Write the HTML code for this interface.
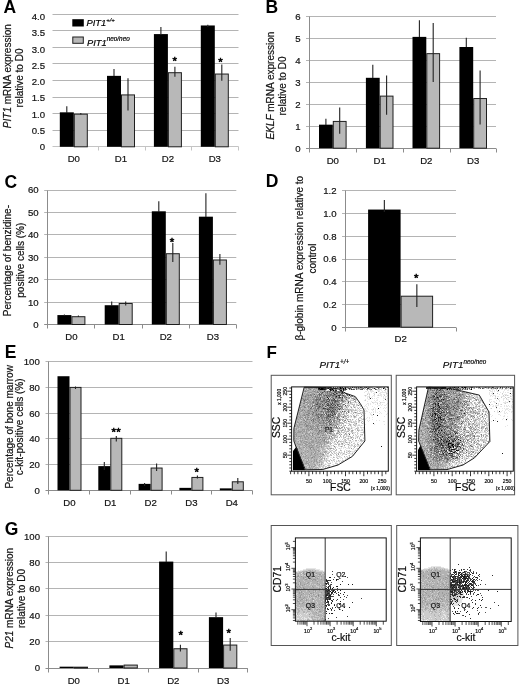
<!DOCTYPE html>
<html><head><meta charset="utf-8"><style>
html,body{margin:0;padding:0;background:#fff;width:520px;height:687px;overflow:hidden}
svg{display:block;font-family:"Liberation Sans", sans-serif;will-change:transform}
text{stroke:currentColor;stroke-width:0.2px}
text[font-weight=bold]{stroke:none}
</style></head><body>
<svg width="520" height="687" viewBox="0 0 520 687">
<rect width="520" height="687" fill="#fff"/>
<text x="3.60" y="13.20" font-size="17.5" text-anchor="start" font-weight="bold" fill="#000">A</text>
<text x="45.00" y="150.05" font-size="9.6" text-anchor="end" fill="#1a1a1a">0</text>
<line x1="52.50" y1="130.50" x2="238.50" y2="130.50" stroke="#b4b4b4" stroke-width="1"/>
<text x="45.00" y="133.81" font-size="9.6" text-anchor="end" fill="#1a1a1a">0.5</text>
<line x1="52.50" y1="113.50" x2="238.50" y2="113.50" stroke="#b4b4b4" stroke-width="1"/>
<text x="45.00" y="117.57" font-size="9.6" text-anchor="end" fill="#1a1a1a">1.0</text>
<line x1="52.50" y1="97.50" x2="238.50" y2="97.50" stroke="#b4b4b4" stroke-width="1"/>
<text x="45.00" y="101.33" font-size="9.6" text-anchor="end" fill="#1a1a1a">1.5</text>
<line x1="52.50" y1="80.50" x2="238.50" y2="80.50" stroke="#b4b4b4" stroke-width="1"/>
<text x="45.00" y="85.09" font-size="9.6" text-anchor="end" fill="#1a1a1a">2.0</text>
<line x1="52.50" y1="63.50" x2="238.50" y2="63.50" stroke="#b4b4b4" stroke-width="1"/>
<text x="45.00" y="68.85" font-size="9.6" text-anchor="end" fill="#1a1a1a">2.5</text>
<line x1="52.50" y1="47.50" x2="238.50" y2="47.50" stroke="#b4b4b4" stroke-width="1"/>
<text x="45.00" y="52.61" font-size="9.6" text-anchor="end" fill="#1a1a1a">3.0</text>
<line x1="52.50" y1="30.50" x2="238.50" y2="30.50" stroke="#b4b4b4" stroke-width="1"/>
<text x="45.00" y="36.37" font-size="9.6" text-anchor="end" fill="#1a1a1a">3.5</text>
<line x1="52.50" y1="14.50" x2="238.50" y2="14.50" stroke="#b4b4b4" stroke-width="1"/>
<text x="45.00" y="20.13" font-size="9.6" text-anchor="end" fill="#1a1a1a">4.0</text>
<line x1="52.50" y1="146.50" x2="238.50" y2="146.50" stroke="#c4c4c4" stroke-width="1"/>
<line x1="98.50" y1="146.50" x2="98.50" y2="150.50" stroke="#c4c4c4" stroke-width="1"/>
<line x1="145.50" y1="146.50" x2="145.50" y2="150.50" stroke="#c4c4c4" stroke-width="1"/>
<line x1="191.50" y1="146.50" x2="191.50" y2="150.50" stroke="#c4c4c4" stroke-width="1"/>
<line x1="238.50" y1="146.50" x2="238.50" y2="150.50" stroke="#c4c4c4" stroke-width="1"/>
<rect x="59.80" y="112.32" width="14.00" height="34.48" fill="#000"/>
<rect x="74.30" y="114.15" width="13.00" height="32.65" fill="#b8b8b8" stroke="#1e1e1e" stroke-width="1"/>
<line x1="66.80" y1="106.30" x2="66.80" y2="113.00" stroke="#222" stroke-width="1.1"/>
<line x1="80.80" y1="112.90" x2="80.80" y2="114.40" stroke="#222" stroke-width="1.1"/>
<text x="73.80" y="161.70" font-size="9.6" text-anchor="middle" fill="#1a1a1a">D0</text>
<rect x="107.00" y="75.86" width="14.00" height="70.94" fill="#000"/>
<rect x="121.50" y="94.92" width="13.00" height="51.88" fill="#b8b8b8" stroke="#1e1e1e" stroke-width="1"/>
<line x1="114.00" y1="69.00" x2="114.00" y2="76.00" stroke="#222" stroke-width="1.1"/>
<line x1="128.00" y1="78.20" x2="128.00" y2="110.50" stroke="#222" stroke-width="1.1"/>
<text x="121.00" y="161.70" font-size="9.6" text-anchor="middle" fill="#1a1a1a">D1</text>
<rect x="153.90" y="34.09" width="14.00" height="112.71" fill="#000"/>
<rect x="168.40" y="72.71" width="13.00" height="74.09" fill="#b8b8b8" stroke="#1e1e1e" stroke-width="1"/>
<line x1="160.90" y1="26.90" x2="160.90" y2="35.00" stroke="#222" stroke-width="1.1"/>
<line x1="174.90" y1="66.80" x2="174.90" y2="76.70" stroke="#222" stroke-width="1.1"/>
<text x="167.90" y="161.70" font-size="9.6" text-anchor="middle" fill="#1a1a1a">D2</text>
<rect x="200.80" y="25.47" width="14.00" height="121.33" fill="#000"/>
<rect x="215.30" y="74.04" width="13.00" height="72.76" fill="#b8b8b8" stroke="#1e1e1e" stroke-width="1"/>
<line x1="207.80" y1="24.80" x2="207.80" y2="27.00" stroke="#222" stroke-width="1.1"/>
<line x1="221.80" y1="64.60" x2="221.80" y2="80.80" stroke="#222" stroke-width="1.1"/>
<text x="214.80" y="161.70" font-size="9.6" text-anchor="middle" fill="#1a1a1a">D3</text>
<text x="174.75" y="64.50" font-size="11.5" text-anchor="middle" fill="#111" style="stroke-width:0.55px">*</text>
<text x="220.60" y="65.85" font-size="11.5" text-anchor="middle" fill="#111" style="stroke-width:0.55px">*</text>
<rect x="72.30" y="19.20" width="11.50" height="7.30" fill="#000"/>
<rect x="72.80" y="37.00" width="10.50" height="6.30" fill="#b8b8b8" stroke="#1e1e1e" stroke-width="1"/>
<text x="86.5" y="26" font-size="9.3" font-style="italic" fill="#000">PIT1<tspan font-size="6" dy="-4.3">+/+</tspan></text>
<text x="87" y="45.6" font-size="9.3" font-style="italic" fill="#000">PIT1<tspan font-size="6.4" dy="-4.3">neo/neo</tspan></text>
<text x="11.5" y="76.2" font-size="10" text-anchor="middle" fill="#1a1a1a" transform="rotate(-90 11.5 76.2)"><tspan font-style="italic">PIT1</tspan> mRNA expression</text>
<text x="23" y="78.0" font-size="10" text-anchor="middle" fill="#1a1a1a" transform="rotate(-90 23 78.0)">relative to D0</text>
<text x="265.60" y="13.30" font-size="17.5" text-anchor="start" font-weight="bold" fill="#000">B</text>
<text x="300.50" y="151.65" font-size="9.6" text-anchor="end" fill="#1a1a1a">0</text>
<line x1="306.00" y1="126.50" x2="496.00" y2="126.50" stroke="#b4b4b4" stroke-width="1"/>
<text x="300.50" y="129.65" font-size="9.6" text-anchor="end" fill="#1a1a1a">1</text>
<line x1="306.00" y1="104.50" x2="496.00" y2="104.50" stroke="#b4b4b4" stroke-width="1"/>
<text x="300.50" y="107.65" font-size="9.6" text-anchor="end" fill="#1a1a1a">2</text>
<line x1="306.00" y1="82.50" x2="496.00" y2="82.50" stroke="#b4b4b4" stroke-width="1"/>
<text x="300.50" y="85.65" font-size="9.6" text-anchor="end" fill="#1a1a1a">3</text>
<line x1="306.00" y1="60.50" x2="496.00" y2="60.50" stroke="#b4b4b4" stroke-width="1"/>
<text x="300.50" y="63.65" font-size="9.6" text-anchor="end" fill="#1a1a1a">4</text>
<line x1="306.00" y1="38.50" x2="496.00" y2="38.50" stroke="#b4b4b4" stroke-width="1"/>
<text x="300.50" y="41.65" font-size="9.6" text-anchor="end" fill="#1a1a1a">5</text>
<line x1="306.00" y1="16.50" x2="496.00" y2="16.50" stroke="#b4b4b4" stroke-width="1"/>
<text x="300.50" y="19.65" font-size="9.6" text-anchor="end" fill="#1a1a1a">6</text>
<line x1="309.50" y1="16.50" x2="309.50" y2="148.50" stroke="#8c8c8c" stroke-width="1"/>
<line x1="306.00" y1="148.50" x2="496.00" y2="148.50" stroke="#8c8c8c" stroke-width="1"/>
<line x1="309.50" y1="148.50" x2="309.50" y2="152.50" stroke="#8c8c8c" stroke-width="1"/>
<line x1="356.50" y1="148.50" x2="356.50" y2="152.50" stroke="#8c8c8c" stroke-width="1"/>
<line x1="403.50" y1="148.50" x2="403.50" y2="152.50" stroke="#8c8c8c" stroke-width="1"/>
<line x1="450.50" y1="148.50" x2="450.50" y2="152.50" stroke="#8c8c8c" stroke-width="1"/>
<line x1="496.50" y1="148.50" x2="496.50" y2="152.50" stroke="#8c8c8c" stroke-width="1"/>
<rect x="319.00" y="124.66" width="13.80" height="23.54" fill="#000"/>
<rect x="333.30" y="121.42" width="12.80" height="26.78" fill="#b8b8b8" stroke="#1e1e1e" stroke-width="1"/>
<line x1="325.90" y1="118.70" x2="325.90" y2="125.00" stroke="#222" stroke-width="1.1"/>
<line x1="339.70" y1="107.50" x2="339.70" y2="133.70" stroke="#222" stroke-width="1.1"/>
<text x="332.80" y="163.50" font-size="9.6" text-anchor="middle" fill="#1a1a1a">D0</text>
<rect x="365.90" y="77.80" width="13.80" height="70.40" fill="#000"/>
<rect x="380.20" y="96.12" width="12.80" height="52.08" fill="#b8b8b8" stroke="#1e1e1e" stroke-width="1"/>
<line x1="372.80" y1="64.70" x2="372.80" y2="78.00" stroke="#222" stroke-width="1.1"/>
<line x1="386.60" y1="75.50" x2="386.60" y2="114.70" stroke="#222" stroke-width="1.1"/>
<text x="379.70" y="163.50" font-size="9.6" text-anchor="middle" fill="#1a1a1a">D1</text>
<rect x="412.50" y="36.88" width="13.80" height="111.32" fill="#000"/>
<rect x="426.80" y="53.66" width="12.80" height="94.54" fill="#b8b8b8" stroke="#1e1e1e" stroke-width="1"/>
<line x1="419.40" y1="20.20" x2="419.40" y2="37.00" stroke="#222" stroke-width="1.1"/>
<line x1="433.20" y1="22.90" x2="433.20" y2="82.00" stroke="#222" stroke-width="1.1"/>
<text x="426.30" y="163.50" font-size="9.6" text-anchor="middle" fill="#1a1a1a">D2</text>
<rect x="459.40" y="47.00" width="13.80" height="101.20" fill="#000"/>
<rect x="473.70" y="98.54" width="12.80" height="49.66" fill="#b8b8b8" stroke="#1e1e1e" stroke-width="1"/>
<line x1="466.30" y1="37.70" x2="466.30" y2="47.00" stroke="#222" stroke-width="1.1"/>
<line x1="480.10" y1="70.50" x2="480.10" y2="124.40" stroke="#222" stroke-width="1.1"/>
<text x="473.20" y="163.50" font-size="9.6" text-anchor="middle" fill="#1a1a1a">D3</text>
<text x="274" y="85.6" font-size="10" text-anchor="middle" fill="#1a1a1a" transform="rotate(-90 274 85.6)"><tspan font-style="italic">EKLF</tspan> mRNA expression</text>
<text x="285.8" y="86.0" font-size="10" text-anchor="middle" fill="#1a1a1a" transform="rotate(-90 285.8 86.0)">relative to D0</text>
<text x="4.50" y="187.50" font-size="17.5" text-anchor="start" font-weight="bold" fill="#000">C</text>
<text x="38.60" y="327.95" font-size="9.6" text-anchor="end" fill="#1a1a1a">0</text>
<line x1="44.20" y1="302.50" x2="236.30" y2="302.50" stroke="#b4b4b4" stroke-width="1"/>
<text x="38.60" y="305.53" font-size="9.6" text-anchor="end" fill="#1a1a1a">10</text>
<line x1="44.20" y1="279.50" x2="236.30" y2="279.50" stroke="#b4b4b4" stroke-width="1"/>
<text x="38.60" y="283.12" font-size="9.6" text-anchor="end" fill="#1a1a1a">20</text>
<line x1="44.20" y1="257.50" x2="236.30" y2="257.50" stroke="#b4b4b4" stroke-width="1"/>
<text x="38.60" y="260.70" font-size="9.6" text-anchor="end" fill="#1a1a1a">30</text>
<line x1="44.20" y1="234.50" x2="236.30" y2="234.50" stroke="#b4b4b4" stroke-width="1"/>
<text x="38.60" y="238.28" font-size="9.6" text-anchor="end" fill="#1a1a1a">40</text>
<line x1="44.20" y1="212.50" x2="236.30" y2="212.50" stroke="#b4b4b4" stroke-width="1"/>
<text x="38.60" y="215.87" font-size="9.6" text-anchor="end" fill="#1a1a1a">50</text>
<line x1="44.20" y1="190.50" x2="236.30" y2="190.50" stroke="#b4b4b4" stroke-width="1"/>
<text x="38.60" y="193.45" font-size="9.6" text-anchor="end" fill="#1a1a1a">60</text>
<line x1="47.50" y1="190.50" x2="47.50" y2="324.50" stroke="#8c8c8c" stroke-width="1"/>
<line x1="44.20" y1="324.50" x2="236.30" y2="324.50" stroke="#8c8c8c" stroke-width="1"/>
<line x1="47.50" y1="324.50" x2="47.50" y2="328.50" stroke="#8c8c8c" stroke-width="1"/>
<line x1="94.50" y1="324.50" x2="94.50" y2="328.50" stroke="#8c8c8c" stroke-width="1"/>
<line x1="142.50" y1="324.50" x2="142.50" y2="328.50" stroke="#8c8c8c" stroke-width="1"/>
<line x1="189.50" y1="324.50" x2="189.50" y2="328.50" stroke="#8c8c8c" stroke-width="1"/>
<line x1="236.50" y1="324.50" x2="236.50" y2="328.50" stroke="#8c8c8c" stroke-width="1"/>
<rect x="57.40" y="315.08" width="14.00" height="9.42" fill="#000"/>
<rect x="71.90" y="316.71" width="13.00" height="7.79" fill="#b8b8b8" stroke="#1e1e1e" stroke-width="1"/>
<line x1="64.40" y1="314.50" x2="64.40" y2="316.00" stroke="#222" stroke-width="1.1"/>
<line x1="78.40" y1="315.50" x2="78.40" y2="317.00" stroke="#222" stroke-width="1.1"/>
<text x="71.40" y="340.30" font-size="9.6" text-anchor="middle" fill="#1a1a1a">D0</text>
<rect x="104.70" y="305.22" width="14.00" height="19.28" fill="#000"/>
<rect x="119.20" y="303.48" width="13.00" height="21.02" fill="#b8b8b8" stroke="#1e1e1e" stroke-width="1"/>
<line x1="111.70" y1="301.50" x2="111.70" y2="306.00" stroke="#222" stroke-width="1.1"/>
<line x1="125.70" y1="301.50" x2="125.70" y2="305.50" stroke="#222" stroke-width="1.1"/>
<text x="118.70" y="340.30" font-size="9.6" text-anchor="middle" fill="#1a1a1a">D1</text>
<rect x="151.80" y="211.30" width="14.00" height="113.20" fill="#000"/>
<rect x="166.30" y="253.72" width="13.00" height="70.78" fill="#b8b8b8" stroke="#1e1e1e" stroke-width="1"/>
<line x1="158.80" y1="201.30" x2="158.80" y2="212.00" stroke="#222" stroke-width="1.1"/>
<line x1="172.80" y1="243.00" x2="172.80" y2="262.00" stroke="#222" stroke-width="1.1"/>
<text x="165.80" y="340.30" font-size="9.6" text-anchor="middle" fill="#1a1a1a">D2</text>
<rect x="198.90" y="216.68" width="14.00" height="107.82" fill="#000"/>
<rect x="213.40" y="259.99" width="13.00" height="64.51" fill="#b8b8b8" stroke="#1e1e1e" stroke-width="1"/>
<line x1="205.90" y1="193.30" x2="205.90" y2="217.00" stroke="#222" stroke-width="1.1"/>
<line x1="219.90" y1="254.00" x2="219.90" y2="264.80" stroke="#222" stroke-width="1.1"/>
<text x="212.90" y="340.30" font-size="9.6" text-anchor="middle" fill="#1a1a1a">D3</text>
<text x="172.10" y="246.00" font-size="11.5" text-anchor="middle" fill="#111" style="stroke-width:0.55px">*</text>
<text x="10.8" y="260.6" font-size="10" text-anchor="middle" fill="#1a1a1a" transform="rotate(-90 10.8 260.6)">Percentage of benzidine-</text>
<text x="24.2" y="260.2" font-size="10" text-anchor="middle" fill="#1a1a1a" transform="rotate(-90 24.2 260.2)">positive cells (%)</text>
<text x="265.80" y="187.00" font-size="17.5" text-anchor="start" font-weight="bold" fill="#000">D</text>
<text x="336.50" y="330.65" font-size="9.6" text-anchor="end" fill="#1a1a1a">0</text>
<line x1="342.00" y1="304.50" x2="456.00" y2="304.50" stroke="#b4b4b4" stroke-width="1"/>
<text x="336.50" y="307.92" font-size="9.6" text-anchor="end" fill="#1a1a1a">0.2</text>
<line x1="342.00" y1="281.50" x2="456.00" y2="281.50" stroke="#b4b4b4" stroke-width="1"/>
<text x="336.50" y="285.18" font-size="9.6" text-anchor="end" fill="#1a1a1a">0.4</text>
<line x1="342.00" y1="259.50" x2="456.00" y2="259.50" stroke="#b4b4b4" stroke-width="1"/>
<text x="336.50" y="262.45" font-size="9.6" text-anchor="end" fill="#1a1a1a">0.6</text>
<line x1="342.00" y1="236.50" x2="456.00" y2="236.50" stroke="#b4b4b4" stroke-width="1"/>
<text x="336.50" y="239.72" font-size="9.6" text-anchor="end" fill="#1a1a1a">0.8</text>
<line x1="342.00" y1="213.50" x2="456.00" y2="213.50" stroke="#b4b4b4" stroke-width="1"/>
<text x="336.50" y="216.98" font-size="9.6" text-anchor="end" fill="#1a1a1a">1.0</text>
<line x1="342.00" y1="190.50" x2="456.00" y2="190.50" stroke="#b4b4b4" stroke-width="1"/>
<text x="336.50" y="194.25" font-size="9.6" text-anchor="end" fill="#1a1a1a">1.2</text>
<line x1="345.50" y1="190.50" x2="345.50" y2="327.50" stroke="#8c8c8c" stroke-width="1"/>
<line x1="342.00" y1="327.50" x2="456.00" y2="327.50" stroke="#8c8c8c" stroke-width="1"/>
<line x1="345.50" y1="327.50" x2="345.50" y2="331.50" stroke="#8c8c8c" stroke-width="1"/>
<line x1="456.50" y1="327.50" x2="456.50" y2="331.50" stroke="#8c8c8c" stroke-width="1"/>
<rect x="368.10" y="209.56" width="32.50" height="117.64" fill="#000"/>
<rect x="401.10" y="296.21" width="31.50" height="30.99" fill="#b8b8b8" stroke="#1e1e1e" stroke-width="1"/>
<line x1="384.35" y1="200.00" x2="384.35" y2="212.00" stroke="#222" stroke-width="1.1"/>
<line x1="416.85" y1="284.20" x2="416.85" y2="307.00" stroke="#222" stroke-width="1.1"/>
<text x="400.60" y="342.30" font-size="9.6" text-anchor="middle" fill="#1a1a1a">D2</text>
<text x="416.30" y="281.70" font-size="11.5" text-anchor="middle" fill="#111" style="stroke-width:0.55px">*</text>
<text x="302.6" y="258.2" font-size="10" text-anchor="middle" fill="#1a1a1a" transform="rotate(-90 302.6 258.2)">&#946;-globin mRNA expression relative to</text>
<text x="316" y="258.6" font-size="10" text-anchor="middle" fill="#1a1a1a" transform="rotate(-90 316 258.6)">control</text>
<text x="4.80" y="358.20" font-size="17.5" text-anchor="start" font-weight="bold" fill="#000">E</text>
<text x="39.80" y="493.75" font-size="9.6" text-anchor="end" fill="#1a1a1a">0</text>
<line x1="45.50" y1="464.50" x2="252.50" y2="464.50" stroke="#b4b4b4" stroke-width="1"/>
<text x="39.80" y="468.03" font-size="9.6" text-anchor="end" fill="#1a1a1a">20</text>
<line x1="45.50" y1="438.50" x2="252.50" y2="438.50" stroke="#b4b4b4" stroke-width="1"/>
<text x="39.80" y="442.31" font-size="9.6" text-anchor="end" fill="#1a1a1a">40</text>
<line x1="45.50" y1="413.50" x2="252.50" y2="413.50" stroke="#b4b4b4" stroke-width="1"/>
<text x="39.80" y="416.59" font-size="9.6" text-anchor="end" fill="#1a1a1a">60</text>
<line x1="45.50" y1="387.50" x2="252.50" y2="387.50" stroke="#b4b4b4" stroke-width="1"/>
<text x="39.80" y="390.87" font-size="9.6" text-anchor="end" fill="#1a1a1a">80</text>
<line x1="45.50" y1="361.50" x2="252.50" y2="361.50" stroke="#b4b4b4" stroke-width="1"/>
<text x="39.80" y="365.15" font-size="9.6" text-anchor="end" fill="#1a1a1a">100</text>
<line x1="48.50" y1="361.50" x2="48.50" y2="490.50" stroke="#8c8c8c" stroke-width="1"/>
<line x1="45.50" y1="490.50" x2="252.50" y2="490.50" stroke="#8c8c8c" stroke-width="1"/>
<line x1="48.50" y1="490.50" x2="48.50" y2="494.50" stroke="#8c8c8c" stroke-width="1"/>
<line x1="89.50" y1="490.50" x2="89.50" y2="494.50" stroke="#8c8c8c" stroke-width="1"/>
<line x1="130.50" y1="490.50" x2="130.50" y2="494.50" stroke="#8c8c8c" stroke-width="1"/>
<line x1="171.50" y1="490.50" x2="171.50" y2="494.50" stroke="#8c8c8c" stroke-width="1"/>
<line x1="211.50" y1="490.50" x2="211.50" y2="494.50" stroke="#8c8c8c" stroke-width="1"/>
<line x1="252.50" y1="490.50" x2="252.50" y2="494.50" stroke="#8c8c8c" stroke-width="1"/>
<rect x="57.50" y="376.23" width="12.00" height="114.07" fill="#000"/>
<rect x="70.00" y="387.41" width="11.00" height="102.89" fill="#b8b8b8" stroke="#1e1e1e" stroke-width="1"/>
<line x1="75.50" y1="386.50" x2="75.50" y2="389.00" stroke="#222" stroke-width="1.1"/>
<text x="69.50" y="505.80" font-size="9.6" text-anchor="middle" fill="#1a1a1a">D0</text>
<rect x="98.30" y="466.12" width="12.00" height="24.18" fill="#000"/>
<rect x="110.80" y="438.33" width="11.00" height="51.97" fill="#b8b8b8" stroke="#1e1e1e" stroke-width="1"/>
<line x1="104.30" y1="462.00" x2="104.30" y2="470.00" stroke="#222" stroke-width="1.1"/>
<line x1="116.30" y1="436.00" x2="116.30" y2="441.50" stroke="#222" stroke-width="1.1"/>
<text x="110.30" y="505.80" font-size="9.6" text-anchor="middle" fill="#1a1a1a">D1</text>
<rect x="138.60" y="483.87" width="12.00" height="6.43" fill="#000"/>
<rect x="151.10" y="468.04" width="11.00" height="22.26" fill="#b8b8b8" stroke="#1e1e1e" stroke-width="1"/>
<line x1="144.60" y1="483.00" x2="144.60" y2="486.00" stroke="#222" stroke-width="1.1"/>
<line x1="156.60" y1="463.50" x2="156.60" y2="471.00" stroke="#222" stroke-width="1.1"/>
<text x="150.60" y="505.80" font-size="9.6" text-anchor="middle" fill="#1a1a1a">D2</text>
<rect x="179.40" y="487.86" width="12.00" height="2.44" fill="#000"/>
<rect x="191.90" y="477.43" width="11.00" height="12.87" fill="#b8b8b8" stroke="#1e1e1e" stroke-width="1"/>
<line x1="197.40" y1="475.50" x2="197.40" y2="478.50" stroke="#222" stroke-width="1.1"/>
<text x="191.40" y="505.80" font-size="9.6" text-anchor="middle" fill="#1a1a1a">D3</text>
<rect x="219.80" y="488.37" width="12.00" height="1.93" fill="#000"/>
<rect x="232.30" y="481.80" width="11.00" height="8.50" fill="#b8b8b8" stroke="#1e1e1e" stroke-width="1"/>
<line x1="237.80" y1="478.00" x2="237.80" y2="484.00" stroke="#222" stroke-width="1.1"/>
<text x="231.80" y="505.80" font-size="9.6" text-anchor="middle" fill="#1a1a1a">D4</text>
<text x="113.70" y="435.70" font-size="11.5" text-anchor="middle" fill="#111" style="stroke-width:0.55px">*</text>
<text x="118.50" y="435.70" font-size="11.5" text-anchor="middle" fill="#111" style="stroke-width:0.55px">*</text>
<text x="196.80" y="476.00" font-size="11.5" text-anchor="middle" fill="#111" style="stroke-width:0.55px">*</text>
<text x="13.2" y="426.85" font-size="10" text-anchor="middle" fill="#1a1a1a" transform="rotate(-90 13.2 426.85)">Percentage of bone marrow</text>
<text x="23.4" y="426.85" font-size="10" text-anchor="middle" fill="#1a1a1a" transform="rotate(-90 23.4 426.85)">c-kit-positive cells (%)</text>
<text x="4.80" y="534.50" font-size="17.5" text-anchor="start" font-weight="bold" fill="#000">G</text>
<text x="40.00" y="671.45" font-size="9.6" text-anchor="end" fill="#1a1a1a">0</text>
<line x1="45.50" y1="641.50" x2="247.90" y2="641.50" stroke="#b4b4b4" stroke-width="1"/>
<text x="40.00" y="645.11" font-size="9.6" text-anchor="end" fill="#1a1a1a">20</text>
<line x1="45.50" y1="615.50" x2="247.90" y2="615.50" stroke="#b4b4b4" stroke-width="1"/>
<text x="40.00" y="618.77" font-size="9.6" text-anchor="end" fill="#1a1a1a">40</text>
<line x1="45.50" y1="588.50" x2="247.90" y2="588.50" stroke="#b4b4b4" stroke-width="1"/>
<text x="40.00" y="592.43" font-size="9.6" text-anchor="end" fill="#1a1a1a">60</text>
<line x1="45.50" y1="562.50" x2="247.90" y2="562.50" stroke="#b4b4b4" stroke-width="1"/>
<text x="40.00" y="566.09" font-size="9.6" text-anchor="end" fill="#1a1a1a">80</text>
<line x1="45.50" y1="536.50" x2="247.90" y2="536.50" stroke="#b4b4b4" stroke-width="1"/>
<text x="40.00" y="539.75" font-size="9.6" text-anchor="end" fill="#1a1a1a">100</text>
<line x1="48.50" y1="536.50" x2="48.50" y2="668.50" stroke="#8c8c8c" stroke-width="1"/>
<line x1="45.50" y1="668.50" x2="247.90" y2="668.50" stroke="#8c8c8c" stroke-width="1"/>
<line x1="48.50" y1="668.50" x2="48.50" y2="672.50" stroke="#8c8c8c" stroke-width="1"/>
<line x1="98.50" y1="668.50" x2="98.50" y2="672.50" stroke="#8c8c8c" stroke-width="1"/>
<line x1="148.50" y1="668.50" x2="148.50" y2="672.50" stroke="#8c8c8c" stroke-width="1"/>
<line x1="198.50" y1="668.50" x2="198.50" y2="672.50" stroke="#8c8c8c" stroke-width="1"/>
<line x1="247.50" y1="668.50" x2="247.50" y2="672.50" stroke="#8c8c8c" stroke-width="1"/>
<rect x="59.60" y="666.68" width="14.20" height="1.32" fill="#000"/>
<rect x="74.30" y="667.18" width="13.20" height="0.82" fill="#b8b8b8" stroke="#1e1e1e" stroke-width="1"/>
<text x="73.80" y="683.60" font-size="9.6" text-anchor="middle" fill="#1a1a1a">D0</text>
<rect x="109.40" y="665.37" width="14.20" height="2.63" fill="#000"/>
<rect x="124.10" y="665.08" width="13.20" height="2.92" fill="#b8b8b8" stroke="#1e1e1e" stroke-width="1"/>
<text x="123.60" y="683.60" font-size="9.6" text-anchor="middle" fill="#1a1a1a">D1</text>
<rect x="159.10" y="561.59" width="14.20" height="106.41" fill="#000"/>
<rect x="173.80" y="648.75" width="13.20" height="19.25" fill="#b8b8b8" stroke="#1e1e1e" stroke-width="1"/>
<line x1="166.20" y1="551.60" x2="166.20" y2="562.00" stroke="#222" stroke-width="1.1"/>
<line x1="180.40" y1="644.80" x2="180.40" y2="651.50" stroke="#222" stroke-width="1.1"/>
<text x="173.30" y="683.60" font-size="9.6" text-anchor="middle" fill="#1a1a1a">D2</text>
<rect x="208.90" y="617.16" width="14.20" height="50.84" fill="#000"/>
<rect x="223.60" y="645.06" width="13.20" height="22.94" fill="#b8b8b8" stroke="#1e1e1e" stroke-width="1"/>
<line x1="216.00" y1="612.50" x2="216.00" y2="618.00" stroke="#222" stroke-width="1.1"/>
<line x1="230.20" y1="638.00" x2="230.20" y2="650.70" stroke="#222" stroke-width="1.1"/>
<text x="223.10" y="683.60" font-size="9.6" text-anchor="middle" fill="#1a1a1a">D3</text>
<text x="180.80" y="639.30" font-size="11.5" text-anchor="middle" fill="#111" style="stroke-width:0.55px">*</text>
<text x="228.80" y="637.10" font-size="11.5" text-anchor="middle" fill="#111" style="stroke-width:0.55px">*</text>
<text x="13.2" y="598.2" font-size="10" text-anchor="middle" fill="#1a1a1a" transform="rotate(-90 13.2 598.2)"><tspan font-style="italic">P21</tspan> mRNA expression</text>
<text x="24.8" y="598.5" font-size="10" text-anchor="middle" fill="#1a1a1a" transform="rotate(-90 24.8 598.5)">relative to D0</text>
<rect x="271.2" y="375.3" width="120.1" height="119.5" fill="none" stroke="#555" stroke-width="1"/>
<text x="334.3" y="368.3" font-size="9.8" font-style="italic" text-anchor="middle" fill="#111">PIT1<tspan font-size="6.3" dy="-4.3">+/+</tspan></text>
<path d="M289.3 471.2H291.6M289.3 468.0H291.6M289.3 464.8H291.6M289.3 461.6H291.6M289.3 458.4H291.6M287.3 455.2H291.6M289.3 452.0H291.6M289.3 448.8H291.6M289.3 445.6H291.6M289.3 442.4H291.6M287.3 439.2H291.6M289.3 436.0H291.6M289.3 432.8H291.6M289.3 429.6H291.6M289.3 426.4H291.6M287.3 423.2H291.6M289.3 420.0H291.6M289.3 416.8H291.6M289.3 413.6H291.6M289.3 410.4H291.6M287.3 407.2H291.6M289.3 404.0H291.6M289.3 400.8H291.6M289.3 397.6H291.6M289.3 394.4H291.6M287.3 391.2H291.6M289.3 388.0H291.6M290.6 471.2V474.2M294.3 471.2V474.2M297.9 471.2V474.2M301.6 471.2V474.2M305.2 471.2V474.2M308.9 471.2V476.2M312.6 471.2V474.2M316.2 471.2V474.2M319.9 471.2V474.2M323.5 471.2V474.2M327.2 471.2V476.2M330.9 471.2V474.2M334.5 471.2V474.2M338.2 471.2V474.2M341.8 471.2V474.2M345.5 471.2V476.2M349.2 471.2V474.2M352.8 471.2V474.2M356.5 471.2V474.2M360.1 471.2V474.2M363.8 471.2V476.2M367.5 471.2V474.2M371.1 471.2V474.2M374.8 471.2V474.2M378.4 471.2V474.2M382.1 471.2V476.2M385.8 471.2V474.2" stroke="#222" stroke-width="0.9" fill="none"/>
<text x="285.2" y="457.0" font-size="5.2" text-anchor="middle" fill="#222" transform="rotate(-90 285.2 455.2)">50</text>
<text x="308.9" y="482.6" font-size="5.2" text-anchor="middle" fill="#222">50</text>
<text x="285.2" y="441.0" font-size="5.2" text-anchor="middle" fill="#222" transform="rotate(-90 285.2 439.2)">100</text>
<text x="327.2" y="482.6" font-size="5.2" text-anchor="middle" fill="#222">100</text>
<text x="285.2" y="425.0" font-size="5.2" text-anchor="middle" fill="#222" transform="rotate(-90 285.2 423.2)">150</text>
<text x="345.5" y="482.6" font-size="5.2" text-anchor="middle" fill="#222">150</text>
<text x="285.2" y="409.0" font-size="5.2" text-anchor="middle" fill="#222" transform="rotate(-90 285.2 407.2)">200</text>
<text x="363.8" y="482.6" font-size="5.2" text-anchor="middle" fill="#222">200</text>
<text x="285.2" y="393.0" font-size="5.2" text-anchor="middle" fill="#222" transform="rotate(-90 285.2 391.2)">250</text>
<text x="382.1" y="482.6" font-size="5.2" text-anchor="middle" fill="#222">250</text>
<text x="279.0" y="398.6" font-size="4.8" text-anchor="middle" fill="#222" transform="rotate(-90 279.0 396.8)">x 1,000</text>
<text x="380.3" y="489.5" font-size="4.8" text-anchor="middle" fill="#222">(x 1,000)</text>
<text x="340.4" y="491.4" font-size="10.3" text-anchor="middle" fill="#111">FSC</text>
<text x="280.5" y="427.4" font-size="10.3" text-anchor="middle" fill="#111" transform="rotate(-90 280.5 427.4)">SSC</text>
<path d="M304.5 387.5h0m3 0h2m3 0h1m25 0h0m21 0h0m13 0h0m9 0h0m2 0h0m-79 1h0m3 0h0m6 0h0m44 0h0m3 0h0m5 0h0m4 0h0m3 0h1m2 0h0m10 0h0m-81 1h0m4 0h0m3 0h0m4 0h2m17 0h0m32 0h0m-63 1h1m2 0h0m3 0h3m4 0h1m17 0h0m-27 1h4m5 0h0m2 0h0m4 0h0m-19 1h0m2 0h0m2 0h0m5 0h2m10 0h0m4 0h0m5 0h0m10 0h0m-38 1h1m2 0h1m2 0h0m3 0h2m7 0h1m6 0h0m5 0h0m3 0h0m2 0h0m4 0h0m-41 1h2m4 0h0m6 0h0m2 0h0m5 0h0m2 0h0m2 0h0m6 0h0m6 0h0m3 0h0m3 0h0m-42 1h0m2 0h0m8 0h0m4 0h0m2 0h0m27 0h0m3 0h0m-41 1h0m2 0h1m2 0h0m6 0h0m7 0h0m6 0h0m17 0h0m-46 1h2m2 0h0m5 0h0m2 0h0m15 0h0m6 0h0m13 0h1m6 0h0m15 0h0m-68 1h0m3 0h0m2 0h0m3 0h3m14 0h0m20 0h0m5 0h0m4 0h0m-54 1h1m7 0h0m2 0h0m10 0h1m16 0h0m2 0h0m5 0h0m8 0h0m2 0h0m-53 1h0m8 0h0m18 0h0m2 0h0m10 0h0m3 0h0m4 0h0m6 0h0m2 0h0m-54 1h0m4 0h0m3 0h0m3 0h0m8 0h0m11 0h0m9 0h2m3 0h0m5 0h1m4 0h0m-54 1h0m2 0h1m8 0h0m8 0h0m8 0h0m4 0h0m2 0h0m10 0h0m12 0h0m-55 1h2m7 0h0m5 0h0m8 0h0m3 0h1m3 0h0m9 0h0m2 0h0m7 0h1m2 0h0m-50 1h5m6 0h0m3 0h0m7 0h0m4 0h0m7 0h0m10 0h0m10 0h0m2 0h0m5 0h0m-58 1h1m2 0h0m2 0h1m2 0h0m15 0h0m25 0h0m4 0h0m-52 1h0m4 0h0m6 0h0m2 0h1m9 0h1m11 0h0m2 0h0m8 0h1m2 0h0m5 0h0m-51 1h1m3 0h1m3 0h0m3 0h0m13 0h0m2 0h0m11 0h0m-40 1h0m3 0h4m3 0h0m3 0h0m4 0h0m25 0h0m17 0h0m-59 1h0m2 0h0m3 0h4m5 0h0m7 0h0m16 0h0m4 0h0m2 0h0m3 0h3m2 0h0m-52 1h0m2 0h0m3 0h0m2 0h1m5 0h2m4 0h0m2 0h1m9 0h0m22 0h0m4 0h0m5 0h0m-62 1h1m3 0h2m2 0h0m7 0h0m22 0h0m3 0h0m9 0h0m4 0h0m-53 1h0m2 0h0m2 0h0m2 0h0m6 0h1m7 0h1m3 0h0m18 0h0m4 0h0m10 0h0m2 0h0m6 0h0m-64 1h0m2 0h3m2 0h2m3 0h0m4 0h0m3 0h0m4 0h0m6 0h0m2 0h0m2 0h0m2 0h0m8 0h0m2 0h0m10 0h0m5 0h1m-61 1h0m2 0h2m3 0h0m4 0h0m2 0h0m3 0h0m23 0h0m3 0h0m2 0h0m19 0h0m-63 1h1m2 0h0m5 0h0m5 0h0m13 0h0m10 0h1m2 0h0m3 0h0m13 0h0m3 0h0m-59 1h0m2 0h0m2 0h2m3 0h0m2 0h3m4 0h0m9 0h1m7 0h0m2 0h0m2 0h1m7 0h0m2 0h0m5 0h0m4 0h0m-57 1h0m8 0h0m3 0h0m6 0h0m5 0h0m18 0h0m4 0h0m6 0h0m6 0h0m6 0h0m-62 1h1m3 0h0m4 0h0m2 0h0m11 0h1m3 0h0m2 0h0m4 0h1m2 0h1m2 0h0m-39 1h1m2 0h1m2 0h0m2 0h0m7 0h0m5 0h0m4 0h1m2 0h0m2 0h0m6 0h0m9 0h3m7 0h0m2 0h0m6 0h0m5 0h0m-67 1h3m3 0h0m5 0h3m2 0h0m2 0h0m6 0h0m8 0h0m8 0h1m3 0h0m-44 1h0m2 0h2m2 0h2m3 0h1m2 0h1m4 0h1m3 0h0m3 0h0m2 0h0m2 0h0m11 0h0m6 0h1m5 0h0m13 0h0m-66 1h0m3 0h0m3 0h0m3 0h0m3 0h0m2 0h1m3 0h0m3 0h0m14 0h0m2 0h0m2 0h0m5 0h1m3 0h1m6 0h0m10 0h0m-65 1h0m2 0h0m2 0h4m2 0h1m8 0h3m9 0h0m3 0h0m2 0h3m2 0h0m2 0h1m3 0h0m19 0h0m-67 1h0m2 0h1m5 0h0m4 0h0m2 0h6m5 0h2m2 0h1m7 0h0m2 0h2m2 0h0m11 0h1m3 0h0m-57 1h0m2 0h0m2 0h3m2 0h0m6 0h0m14 0h0m2 0h0m3 0h0m3 0h0m3 0h0m5 0h0m7 0h0m2 0h0m4 0h0m-58 1h0m3 0h5m5 0h0m6 0h0m4 0h0m3 0h1m5 0h2m2 0h0m11 0h0m-47 1h1m2 0h0m3 0h0m2 0h2m2 0h0m10 0h2m2 0h0m5 0h0m2 0h1m2 0h0m14 0h0m-51 1h0m2 0h1m2 0h6m3 0h1m2 0h0m7 0h0m2 0h1m4 0h5m2 0h0m2 0h1m2 0h0m6 0h0m3 0h1m3 0h0m5 0h0m-62 1h1m3 0h3m4 0h0m4 0h0m4 0h1m3 0h0m2 0h0m3 0h0m2 0h1m3 0h0m5 0h0m10 0h0m14 0h0m-62 1h2m2 0h2m2 0h0m4 0h0m4 0h2m5 0h0m7 0h3m6 0h0m3 0h0m4 0h0m8 0h0m2 0h0m6 0h1m-64 1h3m5 0h0m3 0h0m2 0h1m2 0h0m2 0h3m2 0h0m3 0h0m6 0h0m2 0h1m12 0h0m6 0h1m3 0h1m-58 1h0m2 0h0m5 0h0m2 0h2m2 0h0m4 0h1m2 0h3m5 0h0m9 0h0m2 0h0m4 0h0m6 0h0m20 0h0m-69 1h1m2 0h4m2 0h0m5 0h0m2 0h1m2 0h1m2 0h0m4 0h0m5 0h0m3 0h0m6 0h0m4 0h0m10 0h0m-54 1h0m3 0h4m2 0h1m2 0h1m6 0h0m2 0h1m3 0h3m2 0h0m6 0h4m10 0h0m2 0h0m16 0h0m-68 1h1m2 0h3m2 0h0m5 0h1m5 0h0m2 0h0m2 0h1m3 0h0m4 0h0m3 0h1m5 0h0m6 0h0m13 0h0m-58 1h0m2 0h0m5 0h1m2 0h0m3 0h2m2 0h0m2 0h5m3 0h0m2 0h2m8 0h0m3 0h0m3 0h0m3 0h0m5 0h0m2 0h0m10 0h0m-66 1h1m2 0h1m3 0h2m3 0h1m2 0h2m2 0h1m2 0h0m4 0h0m2 0h0m5 0h0m4 0h1m2 0h0m2 0h0m3 0h0m6 0h0m12 0h0m-62 1h0m2 0h2m2 0h0m2 0h1m2 0h1m2 0h1m3 0h1m2 0h3m2 0h0m2 0h1m2 0h0m4 0h0m4 0h0m14 0h0m7 0h0m4 0h0m-65 1h4m2 0h0m2 0h2m4 0h1m3 0h3m2 0h0m2 0h0m2 0h0m2 0h0m2 0h1m2 0h0m2 0h1m14 0h0m16 0h0m-65 1h0m3 0h0m2 0h0m2 0h1m3 0h2m2 0h0m3 0h1m2 0h1m2 0h1m5 0h0m10 0h0m14 0h0m5 0h1m4 0h1m-67 1h0m2 0h1m5 0h1m4 0h3m4 0h0m3 0h0m2 0h1m2 0h0m12 0h0m6 0h0m5 0h0m-51 1h4m2 0h0m2 0h0m2 0h1m3 0h0m2 0h0m4 0h2m5 0h2m2 0h0m5 0h0m19 0h0m2 0h0m-56 1h1m2 0h5m3 0h0m5 0h4m3 0h1m2 0h2m3 0h0m2 0h0m2 0h1m10 0h0m-45 1h1m4 0h0m7 0h2m3 0h0m4 0h1m2 0h0m2 0h0m3 0h0m5 0h0m6 0h0m2 0h1m3 0h0m15 0h1m-62 1h7m2 0h0m2 0h1m6 0h0m4 0h1m4 0h1m4 0h0m5 0h0m21 0h0m-58 1h2m4 0h1m3 0h1m3 0h1m2 0h2m2 0h1m2 0h0m2 0h4m2 0h1m26 0h0m-59 1h0m2 0h0m2 0h2m5 0h1m6 0h2m3 0h0m3 0h1m12 0h0m19 0h0m-56 1h0m3 0h2m2 0h4m3 0h0m2 0h5m3 0h1m6 0h0m4 0h0m-36 1h3m2 0h1m2 0h1m2 0h1m2 0h1m3 0h0m3 0h1m3 0h2m4 0h0m8 0h0m-38 1h8m2 0h2m2 0h1m2 0h1m3 0h1m2 0h0m13 0h0m5 0h0m16 0h0m-58 1h4m2 0h0m2 0h1m2 0h5m2 0h0m7 0h1m2 0h0m4 0h0m14 0h0m4 0h0m2 0h0m-51 1h1m2 0h0m2 0h2m2 0h2m2 0h0m4 0h2m2 0h0m2 0h0m3 0h1m3 0h0m2 0h0m8 0h0m7 0h0m9 0h0m-56 1h1m2 0h4m2 0h2m2 0h0m4 0h3m2 0h1m3 0h0m2 0h1m4 0h0m6 0h0m5 0h0m9 0h0m-53 1h2m3 0h0m3 0h3m2 0h1m2 0h1m2 0h3m9 0h0m6 0h0m10 0h0m-46 1h0m3 0h0m2 0h0m2 0h2m2 0h3m2 0h2m2 0h0m2 0h2m7 0h0m18 0h0m-49 1h2m2 0h0m2 0h4m2 0h0m3 0h3m2 0h0m7 0h0m17 0h0m-43 1h6m2 0h1m3 0h0m2 0h3m4 0h0m11 0h0m16 0h0m-47 1h0m2 0h0m2 0h0m2 0h2m2 0h5m2 0h0m2 0h1m4 0h0m11 0h0m-36 1h0m2 0h1m2 0h0m4 0h1m2 0h0m2 0h0m2 0h0m3 0h0m4 0h0m-22 1h0m2 0h2m3 0h4m2 0h0m5 0h0m11 0h0m7 0h0m-36 1h3m3 0h2m2 0h1m2 0h0m2 0h0m2 0h2m5 0h0m3 0h0m-26 1h2m2 0h1m2 0h1m3 0h0m2 0h0m2 0h0m3 0h1m-19 1h1m6 0h4m2 0h1m4 0h0m9 0h0m10 0h0m-37 1h3m3 0h4m2 0h0m2 0h0m20 0h0m-30 1h1m2 0h2m2 0h0m4 0h1m4 0h0m5 0h1m-24 1h1m6 0h0m7 0h0m-14 1h1m2 0h0m2 0h3m2 0h2m10 0h0m-22 1h0m2 0h2m2 0h0m3 0h2m2 0h0m7 0h0m-20 1h0m2 0h1m3 0h5m2 0h0m3 0h0" stroke="#b2b2b2" stroke-width="1" stroke-linecap="square" fill="none"/>
<path d="M305.5 387.5h1m4 0h1m3 0h1m2 0h0m9 0h0m18 0h0m2 0h0m2 0h0m7 0h0m7 0h0m8 0h1m5 0h0m4 0h0m-75 1h1m4 0h2m2 0h1m2 0h0m21 0h0m21 0h0m2 0h0m23 0h0m-78 1h0m3 0h0m4 0h1m22 0h0m6 0h0m27 0h1m-65 1h0m2 0h1m5 0h0m2 0h0m3 0h0m2 0h3m2 0h0m19 0h1m-41 1h0m2 0h0m6 0h1m2 0h0m4 0h2m2 0h0m2 0h1m6 0h0m-24 1h3m4 0h1m5 0h0m5 0h0m6 0h0m5 0h0m-33 1h0m3 0h0m5 0h1m12 0h1m2 0h0m6 0h0m5 0h0m-37 1h0m4 0h2m3 0h2m3 0h0m12 0h0m8 0h1m2 0h0m9 0h0m-45 1h0m2 0h2m2 0h0m4 0h0m2 0h0m5 0h0m21 0h0m3 0h0m7 0h0m-48 1h1m2 0h0m2 0h0m3 0h0m2 0h1m2 0h0m5 0h2m7 0h0m4 0h0m3 0h1m4 0h1m8 0h0m-46 1h0m2 0h3m4 0h1m4 0h0m2 0h0m2 0h3m3 0h0m4 0h0m4 0h0m4 0h0m4 0h0m4 0h0m-46 1h0m2 0h0m2 0h1m5 0h1m3 0h0m2 0h0m3 0h0m3 0h0m7 0h0m2 0h0m2 0h1m3 0h1m4 0h0m3 0h1m3 0h1m-49 1h0m2 0h0m2 0h0m2 0h0m2 0h0m2 0h0m16 0h0m-29 1h0m2 0h0m2 0h1m2 0h1m2 0h0m2 0h1m3 0h0m3 0h2m3 0h0m2 0h0m17 0h0m-41 1h0m4 0h0m2 0h1m2 0h0m2 0h1m2 0h0m8 0h0m8 0h0m12 0h0m10 0h0m-54 1h0m3 0h1m2 0h3m4 0h2m4 0h1m2 0h1m4 0h0m8 0h1m2 0h0m3 0h0m8 0h0m-43 1h1m2 0h3m3 0h0m7 0h0m12 0h0m2 0h0m2 0h0m6 0h0m-39 1h1m2 0h1m2 0h0m6 0h0m5 0h0m6 0h0m6 0h1m4 0h0m-37 1h0m2 0h0m3 0h0m2 0h0m3 0h0m2 0h2m3 0h1m4 0h1m5 0h0m3 0h0m6 0h0m2 0h0m5 0h0m-48 1h0m3 0h1m4 0h0m2 0h1m11 0h0m8 0h0m3 0h1m9 0h0m-43 1h2m7 0h1m5 0h0m3 0h0m3 0h0m2 0h0m2 0h0m18 0h0m4 0h0m5 0h0m3 0h0m-54 1h0m8 0h0m6 0h0m5 0h2m14 0h2m2 0h0m-39 1h0m2 0h1m6 0h3m2 0h1m2 0h0m2 0h0m2 0h0m2 0h0m9 0h0m6 0h0m3 0h0m-42 1h0m2 0h0m6 0h0m2 0h1m5 0h0m6 0h1m2 0h0m3 0h0m4 0h0m4 0h0m2 0h0m11 0h0m-48 1h1m4 0h0m2 0h4m3 0h0m2 0h3m4 0h1m12 0h0m4 0h0m5 0h0m-46 1h0m4 0h0m2 0h4m3 0h0m2 0h3m3 0h1m8 0h1m5 0h1m5 0h0m5 0h0m-47 1h0m5 0h0m7 0h1m3 0h0m4 0h1m8 0h0m7 0h1m2 0h0m8 0h0m-49 1h0m2 0h0m4 0h1m4 0h0m2 0h0m3 0h0m2 0h0m8 0h0m4 0h0m4 0h0m7 0h1m4 0h0m-43 1h0m2 0h1m2 0h0m2 0h0m2 0h0m3 0h2m4 0h1m3 0h0m3 0h1m13 0h0m5 0h0m3 0h0m-49 1h0m2 0h0m5 0h0m2 0h0m5 0h2m2 0h0m6 0h0m17 0h0m2 0h0m2 0h0m2 0h0m9 0h0m7 0h0m-64 1h0m2 0h3m2 0h0m3 0h0m3 0h2m2 0h0m2 0h1m6 0h0m5 0h0m5 0h0m3 0h0m3 0h0m-43 1h1m3 0h0m3 0h0m2 0h0m2 0h0m3 0h1m3 0h2m15 0h0m5 0h0m2 0h0m8 0h0m-48 1h0m3 0h0m2 0h0m3 0h0m2 0h2m4 0h0m3 0h1m6 0h0m3 0h0m2 0h0m3 0h2m4 0h0m9 0h0m-44 1h0m3 0h0m9 0h3m3 0h0m3 0h0m6 0h1m4 0h0m7 0h0m2 0h0m15 0h0m-62 1h0m4 0h0m5 0h0m3 0h0m3 0h0m2 0h0m3 0h0m3 0h1m4 0h0m5 0h0m6 0h0m2 0h1m-44 1h0m2 0h1m2 0h1m2 0h1m2 0h1m2 0h0m3 0h1m3 0h0m2 0h0m2 0h2m6 0h1m3 0h0m4 0h0m3 0h0m-44 1h0m4 0h0m9 0h2m2 0h2m7 0h1m2 0h0m12 0h0m6 0h0m14 0h0m-60 1h0m3 0h3m2 0h2m2 0h0m8 0h1m6 0h0m4 0h0m-32 1h0m2 0h0m2 0h0m5 0h0m4 0h2m2 0h1m2 0h5m3 0h0m5 0h0m3 0h0m3 0h0m11 0h0m-51 1h1m2 0h1m7 0h0m2 0h1m3 0h3m2 0h0m2 0h0m3 0h0m3 0h2m8 0h0m4 0h0m-40 1h0m2 0h1m6 0h0m2 0h4m2 0h0m9 0h0m2 0h0m2 0h0m3 0h0m2 0h2m2 0h0m2 0h0m2 0h1m2 0h0m-50 1h0m2 0h0m11 0h1m5 0h4m6 0h0m2 0h0m14 0h1m-44 1h0m6 0h2m2 0h2m3 0h0m4 0h1m2 0h0m3 0h0m2 0h0m7 0h0m15 0h0m3 0h0m-54 1h0m4 0h0m4 0h0m2 0h0m2 0h0m2 0h1m5 0h3m4 0h3m5 0h2m2 0h0m5 0h0m4 0h0m10 0h0m-54 1h3m2 0h1m2 0h0m10 0h0m2 0h0m4 0h2m3 0h0m5 0h1m-38 1h0m2 0h3m2 0h0m4 0h0m4 0h0m3 0h0m6 0h2m2 0h1m2 0h4m9 0h0m-43 1h0m6 0h0m3 0h2m2 0h0m6 0h0m3 0h1m2 0h2m8 0h0m5 0h1m8 0h0m7 0h0m-57 1h1m9 0h0m3 0h1m3 0h0m2 0h0m3 0h0m6 0h0m2 0h0m14 0h0m2 0h0m-45 1h0m5 0h0m2 0h1m2 0h0m3 0h1m6 0h0m4 0h0m3 0h1m2 0h0m6 0h1m2 0h0m-41 1h0m2 0h0m2 0h3m3 0h0m2 0h1m4 0h0m2 0h0m7 0h0m9 0h0m-29 1h0m4 0h1m3 0h0m4 0h0m3 0h0m2 0h1m3 0h0m3 0h2m25 0h0m-57 1h0m2 0h0m4 0h0m2 0h0m3 0h0m3 0h0m3 0h0m11 0h0m3 0h0m3 0h1m3 0h0m-27 1h2m3 0h1m5 0h0m2 0h0m4 0h0m5 0h0m8 0h0m17 0h0m-58 1h1m5 0h0m2 0h0m10 0h1m3 0h0m3 0h0m3 0h1m-28 1h0m3 0h0m2 0h1m3 0h2m5 0h2m2 0h1m2 0h0m3 0h0m2 0h3m2 0h0m10 0h0m-37 1h0m2 0h0m3 0h1m2 0h0m2 0h2m4 0h3m4 0h0m2 0h2m9 0h0m9 0h0m-49 1h0m7 0h1m3 0h2m6 0h1m3 0h0m4 0h0m3 0h0m15 0h0m-47 1h0m3 0h2m2 0h0m3 0h2m4 0h0m3 0h0m5 0h0m2 0h0m3 0h0m24 0h0m-53 1h0m9 0h0m2 0h0m3 0h4m3 0h1m4 0h0m23 0h0m-45 1h0m6 0h0m3 0h1m3 0h0m4 0h0m3 0h0m2 0h0m20 0h0m-42 1h0m4 0h1m2 0h0m3 0h1m2 0h1m4 0h1m3 0h0m-24 1h0m2 0h1m13 0h0m14 0h0m3 0h1m20 0h0m-50 1h0m9 0h0m3 0h1m2 0h0m-9 1h0m4 0h0m3 0h0m3 0h1m-13 1h0m3 0h0m7 0h0m3 0h1m6 0h0m-27 1h0m3 0h0m2 0h0m4 0h0m4 0h0m2 0h0m2 0h0m9 0h0m-13 1h0m3 0h1m5 0h0m-18 1h0m3 0h0m6 0h0m3 0h0m3 0h0m5 0h0m16 0h0m-37 1h0m5 0h0m4 0h0m5 0h0m-12 1h0m2 0h0m8 0h1m5 0h0m2 0h0m-21 1h0m8 0h0m3 0h0m3 0h0m6 0h0m-15 1h0m2 0h0m4 0h0m13 0h0m-16 1h0m6 0h0m2 0h0m5 0h0m-18 1h0m5 0h0m6 0h0m2 0h0m3 0h0m-13 1h1m4 0h0m3 0h0m2 0h0m-14 1h0m4 0h0m3 0h0m4 0h0m4 0h0m2 0h0m-14 1h3m0 1h0m6 0h0m5 0h0m2 0h0m-12 1h0m6 0h0m-6 1h0m2 0h0m2 0h1m-10 1h0m5 0h0m-3 1h0m4 0h0m2 0h0m-3 1h1m12 0h0" stroke="#999999" stroke-width="1" stroke-linecap="square" fill="none"/>
<path d="M316.5 387.5h0m11 0h0m8 0h0m6 0h0m6 0h0m3 0h0m15 0h0m3 0h1m9 0h1m-71 1h1m7 0h0m16 0h0m12 0h0m7 0h0m11 0h0m-52 1h0m16 0h0m14 0h0m12 0h0m15 0h0m9 0h0m-57 1h0m5 0h0m8 0h0m-27 1h0m9 0h0m3 0h0m11 0h0m5 0h0m4 0h0m2 0h0m3 0h0m-25 1h1m2 0h0m3 0h0m2 0h0m4 0h2m5 0h0m4 0h0m-18 1h0m5 0h0m2 0h0m2 0h1m14 0h0m-36 1h0m8 0h0m3 0h0m2 0h0m2 0h0m2 0h0m2 0h0m4 0h0m9 0h0m-34 1h0m2 0h1m6 0h0m4 0h0m2 0h0m2 0h0m2 0h0m2 0h0m2 0h0m3 0h3m-32 1h0m12 0h0m2 0h0m5 0h0m2 0h2m4 0h1m11 0h1m5 0h0m2 0h0m-40 1h0m4 0h2m4 0h0m9 0h1m12 0h0m-42 1h0m14 0h0m2 0h0m5 0h0m7 0h0m5 0h0m3 0h1m-36 1h0m2 0h0m2 0h0m6 0h0m2 0h0m3 0h0m5 0h3m5 0h2m4 0h0m4 0h1m-27 1h0m3 0h1m17 0h0m2 0h0m-34 1h0m9 0h0m3 0h0m2 0h0m2 0h0m3 0h1m5 0h0m2 0h1m6 0h0m4 0h1m5 0h0m-42 1h0m6 0h0m6 0h0m4 0h0m7 0h1m8 0h0m-35 1h1m11 0h0m3 0h3m10 0h0m2 0h1m2 0h0m5 0h0m-26 1h0m4 0h0m5 0h0m3 0h0m3 0h0m9 0h0m5 0h0m-44 1h0m12 0h0m6 0h1m3 0h0m11 0h0m5 0h0m20 0h0m-54 1h0m4 0h0m7 0h3m8 0h0m2 0h0m3 0h0m5 0h0m2 0h0m2 0h1m-37 1h1m10 0h0m6 0h0m2 0h0m4 0h0m7 0h0m2 0h0m5 0h0m-30 1h0m2 0h0m2 0h0m7 0h0m4 0h1m2 0h2m2 0h1m8 0h0m-26 1h0m2 0h0m4 0h0m2 0h2m4 0h1m3 0h0m3 0h0m6 0h0m-41 1h0m2 0h0m4 0h0m6 0h0m4 0h0m7 0h0m8 0h1m2 0h0m-24 1h0m3 0h0m5 0h0m2 0h0m3 0h1m4 0h0m18 0h0m-23 1h2m5 0h1m22 0h0m-47 1h1m4 0h0m3 0h0m2 0h0m5 0h0m2 0h0m5 0h0m9 0h0m-33 1h1m10 0h0m2 0h1m9 0h0m3 0h0m-28 1h0m4 0h0m7 0h2m3 0h0m3 0h0m6 0h1m3 0h0m5 0h0m-21 1h0m4 0h0m2 0h0m3 0h0m9 0h0m3 0h0m-33 1h0m3 0h0m13 0h1m2 0h1m4 0h2m3 0h0m-21 1h0m4 0h1m3 0h1m2 0h0m3 0h0m10 0h0m-30 1h0m5 0h1m2 0h0m4 0h0m3 0h0m4 0h0m2 0h0m9 0h0m-33 1h0m15 0h0m3 0h0m3 0h1m7 0h1m5 0h0m6 0h0m-40 1h0m8 0h0m5 0h0m5 0h0m10 0h1m14 0h0m-33 1h0m4 0h0m4 0h1m2 0h1m7 0h0m-29 1h0m14 0h1m3 0h0m2 0h1m5 0h0m-13 1h0m8 0h0m3 0h0m2 0h0m2 0h0m4 0h0m-31 1h1m14 0h1m2 0h0m2 0h0m3 0h0m3 0h0m3 0h0m-29 1h0m4 0h0m7 0h0m10 0h0m-10 1h0m6 0h0m13 0h0m-25 1h0m7 0h0m6 0h0m13 0h0m-27 1h0m2 0h0m20 0h0m-12 1h0m-1 1h0m2 0h0m4 0h0m13 0h0m-20 1h0m-6 1h0m5 0h0m10 0h0m2 0h1m-12 1h0m-6 1h0m10 0h0m9 1h0m-12 1h0m4 0h0m6 0h0m-14 1h0m5 1h0m4 0h0m0 1h0m10 6h0m-23 1h0m-1 1h0m-9 5h0m22 1h0m-11 3h0" stroke="#808080" stroke-width="1" stroke-linecap="square" fill="none"/>
<path d="M318.5 387.5h1m2 0h0m3 0h1m5 0h0m22 0h0m-34 1h0m5 0h0m13 0h0m38 0h0m-51 1h1m6 1h0m10 0h0m3 0h0m-1 2h0m7 3h0m-13 1h0m-9 1h0m1 1h0" stroke="#191919" stroke-width="1" stroke-linecap="square" fill="none"/>
<path d="M320.5 387.5h0m20 0h0m-21 1h0m2 0h1m6 0h0m7 0h0m5 0h0m3 0h0m2 0h0m38 0h0m-63 1h2m8 0h0m2 0h0m11 0h0m-10 1h0m8 0h0" stroke="#000000" stroke-width="1" stroke-linecap="square" fill="none"/>
<path d="M322.5 387.5h1m6 0h0m4 0h0m9 0h0m3 0h0m15 0h0m6 0h0m-46 1h0m4 0h1m6 0h0m3 0h0m7 0h0m8 0h0m18 0h1m-50 1h1m6 0h0m4 0h0m2 0h0m14 0h0m6 0h0m-16 1h1m-3 3h0m3 0h0m-2 1h0m4 1h1m0 2h0m3 0h0m-8 2h0m-3 5h0m-4 1h0m8 0h0m-12 3h0m4 1h0m12 0h0m-7 6h0" stroke="#333333" stroke-width="1" stroke-linecap="square" fill="none"/>
<path d="M328.5 387.5h0m3 0h0m6 0h0m2 0h0m15 0h0m7 0h0m3 0h0m13 0h0m7 0h0m-58 1h0m4 0h0m9 0h0m3 0h0m6 0h0m2 0h0m6 0h0m2 0h0m5 0h0m15 0h0m-45 1h0m2 0h0m6 0h0m3 0h0m5 0h0m5 0h0m2 0h0m4 0h1m10 0h0m14 0h0m-58 2h0m2 0h1m4 0h0m2 0h0m2 0h0m2 0h0m-13 1h0m7 0h0m4 0h0m3 0h0m-22 1h0m2 0h0m16 0h0m6 0h0m-29 1h0m5 0h1m10 0h1m4 0h0m5 0h0m6 0h0m-27 1h0m5 0h0m4 0h0m2 0h0m2 0h1m7 0h0m2 0h0m5 0h0m-32 1h0m14 0h0m6 0h0m-15 1h0m15 0h1m2 0h0m8 0h0m-22 1h0m18 0h0m-26 1h1m2 0h1m8 0h1m17 0h0m8 0h0m-50 1h0m12 0h0m7 0h1m2 0h0m6 0h0m2 0h0m3 0h0m2 0h0m2 0h1m-21 1h1m4 0h1m7 0h0m2 0h1m-24 1h0m4 0h0m9 0h0m8 0h1m-18 1h0m7 0h0m4 0h0m2 0h0m-10 1h0m6 0h0m7 0h1m4 0h0m5 0h0m-29 1h0m9 0h0m6 0h1m-18 1h0m8 0h0m2 0h0m8 0h0m4 0h0m-23 1h0m7 0h1m13 0h0m3 0h0m2 0h0m-27 1h0m7 0h1m10 0h0m10 0h0m2 0h0m-12 1h0m5 0h0m-12 2h0m6 0h2m3 0h0m2 0h0m3 0h0m7 0h0m-31 1h0m10 0h0m5 0h0m6 0h0m14 0h0m-22 1h0m-14 1h0m4 0h0m2 0h0m3 0h1m2 0h0m9 0h1m-13 1h0m6 0h0m4 0h0m-13 1h0m2 0h0m7 0h0m2 0h0m4 0h0m-15 1h1m7 0h1m5 0h0m11 0h0m-17 1h0m2 0h0m6 0h0m5 1h0m-28 1h0m2 0h0m10 0h0m4 0h0m2 0h0m-1 1h1m2 0h0m-1 1h0m-1 1h0m7 3h0m-15 1h0m4 0h0m4 2h0m-10 1h0" stroke="#666666" stroke-width="1" stroke-linecap="square" fill="none"/>
<path d="M343.5 387.5h0m6 0h0m2 0h0m12 0h0m10 0h0m2 0h0m-48 2h0m20 0h0m21 0h0m13 0h0m6 0h0m-61 1h1m2 0h0m13 0h0m29 0h1m5 0h2m2 0h0m4 0h0m2 0h0m-22 1h1m2 0h0m2 0h3m6 0h0m3 0h0m3 0h0m2 0h0m-23 1h0m4 0h0m3 0h0m3 0h1m5 0h6m-19 1h2m4 0h1m5 0h1m7 0h0m-44 1h0m35 0h0m2 0h1m2 0h1m2 0h0m-22 1h0m2 0h0m3 0h0m4 0h1m3 0h0m2 0h2m6 0h0m-40 1h0m7 0h0m11 0h0m2 0h1m4 0h0m2 0h0m7 0h0m2 0h0m2 0h1m-43 1h0m24 0h0m4 0h0m6 0h1m5 0h0m2 0h0m-56 1h0m38 0h0m2 0h0m5 0h0m2 0h0m7 0h2m2 0h0m-43 1h0m4 0h0m2 0h2m13 0h0m3 0h1m8 0h0m-21 1h0m8 0h0m10 0h0m2 0h1m6 0h0m3 0h0m-40 1h0m21 0h0m4 0h0m4 0h0m4 0h0m-34 1h2m7 0h0m3 0h2m14 0h4m4 0h3m-40 1h0m2 0h0m3 0h0m3 0h0m2 0h0m2 0h0m3 0h0m8 0h1m2 0h0m3 0h0m6 0h1m7 0h0m-79 1h0m5 0h0m34 0h0m2 0h1m16 0h0m2 0h0m2 0h0m5 0h0m2 0h0m3 0h0m2 0h0m4 0h0m-40 1h0m13 0h0m6 0h0m3 0h0m10 0h1m2 0h0m3 0h1m-42 1h0m4 0h0m4 0h0m3 0h2m8 0h0m2 0h0m6 0h0m5 0h0m-34 1h2m3 0h0m2 0h0m3 0h0m14 0h0m7 0h0m6 0h0m4 0h0m2 0h0m-40 1h0m3 0h0m2 0h1m3 0h0m2 0h0m7 0h1m2 0h0m6 0h0m2 0h0m8 0h0m2 0h0m-29 1h1m8 0h0m3 0h0m3 0h1m3 0h0m2 0h0m-39 1h0m2 0h0m2 0h0m5 0h0m10 0h2m3 0h1m3 0h0m6 0h0m3 0h0m9 0h0m-43 1h0m13 0h0m8 0h1m2 0h2m6 0h0m2 0h0m4 0h0m6 0h0m-43 1h0m9 0h1m5 0h0m4 0h0m8 0h0m2 0h0m2 0h0m2 0h0m2 0h0m3 0h0m-43 1h0m3 0h0m5 0h0m5 0h0m5 0h1m5 0h2m2 0h0m5 0h0m9 0h0m2 0h0m6 0h0m-62 1h0m23 0h0m6 0h0m2 0h1m13 0h1m15 0h0m-45 1h1m4 0h0m5 0h0m3 0h0m3 0h0m7 0h0m7 0h1m-23 1h1m6 0h0m28 0h0m-43 1h0m3 0h0m2 0h0m4 0h1m2 0h0m3 0h0m11 0h0m2 0h0m3 0h0m-33 1h0m3 0h0m12 0h0m5 0h1m6 0h0m3 0h0m-34 1h0m11 0h0m7 0h0m8 0h0m4 0h0m7 0h0m-29 1h0m5 0h0m3 0h1m9 0h0m6 0h0m2 0h0m7 0h0m3 0h0m-25 1h0m7 0h0m7 0h0m15 0h1m-35 1h1m5 0h1m3 0h0m4 0h0m-16 1h0m14 0h0m2 0h0m-12 1h0m3 0h0m4 0h1m6 0h0m9 0h0m10 0h0m-47 1h0m12 0h0m2 0h0m2 0h0m3 0h1m3 0h0m2 0h0m-27 1h0m5 0h0m4 0h0m6 0h0m7 0h0m3 0h0m-22 1h0m9 0h2m3 0h2m8 0h0m-20 1h0m3 0h0m5 0h0m2 0h0m3 0h0m6 0h0m2 0h1m-27 1h0m2 0h1m7 0h0m3 0h0m2 0h0m2 0h0m4 0h1m2 0h0m2 0h0m-27 1h0m3 0h0m8 0h0m8 0h0m5 0h0m3 0h1m-30 1h1m15 0h0m6 0h0m-24 1h0m4 0h0m4 0h0m9 0h0m5 0h0m6 0h0m-34 1h0m13 0h0m4 0h0m7 0h0m3 0h1m4 0h0m5 0h0m-34 1h0m6 0h0m2 0h0m3 0h0m7 0h0m6 0h0m-22 1h0m6 0h1m9 0h2m6 0h0m3 0h0m2 0h2m-29 1h0m3 0h0m5 0h0m4 0h0m2 0h0m8 0h1m-8 1h0m7 0h1m7 0h0m-26 1h0m7 0h0m2 0h0m3 0h0m8 0h0m-28 1h0m4 0h0m3 0h0m4 0h0m7 0h0m12 0h0m-34 1h0m2 0h0m6 0h0m2 0h0m3 0h0m3 0h0m2 0h0m5 0h0m5 0h0m-23 1h0m2 0h0m12 0h0m5 0h4m2 0h1m3 0h1m3 0h0m-30 1h0m3 0h0m2 0h0m2 0h1m3 0h0m4 0h0m6 0h0m3 0h1m3 0h0m2 0h0m-30 1h1m4 0h0m5 0h0m4 0h0m3 0h0m-23 1h0m2 0h0m11 0h0m3 0h0m3 0h0m3 0h0m3 0h0m2 0h0m6 0h1m-39 1h0m7 0h1m2 0h0m7 0h0m3 0h0m6 0h0m2 0h0m6 0h1m2 0h1m-30 1h1m2 0h0m2 0h1m2 0h1m5 0h0m6 0h1m7 0h0m-33 1h0m3 0h0m2 0h1m3 0h0m3 0h0m4 0h0m2 0h1m5 0h1m9 0h0m-21 1h0m2 0h1m2 0h0m3 0h2m8 0h0m-29 1h0m2 0h0m11 0h0m5 0h0m7 0h1m2 0h0m-34 1h0m6 0h0m3 0h0m14 0h0m3 0h1m6 0h0m-26 1h1m2 0h0m4 0h0m3 0h1m2 0h0m5 0h1m4 0h2m-26 1h0m6 0h0m5 0h0m2 0h0m2 0h0m5 0h0m5 0h2m-28 1h0m5 0h0m5 0h1m4 0h1m5 0h0m3 0h1m3 0h0m-30 1h0m3 0h1m3 0h0m9 0h0m3 0h1m6 0h3m-28 1h0m3 0h1m5 0h0m5 0h0m2 0h1m6 0h0m-22 1h0m3 0h0m4 0h0m3 0h1m3 0h0m7 0h0m-26 1h0m2 0h0m2 0h0m2 0h1m2 0h1m6 0h0m2 0h1m4 0h1m3 0h0m2 0h0m-25 1h0m2 0h1m4 0h0m8 0h0m5 0h1m-21 1h0m2 0h0m15 0h0m-10 1h0m2 0h0m2 0h0m3 0h1m-16 1h1m3 0h0m4 0h0m5 0h1m5 0h0m-17 1h0m4 0h0m2 0h0m3 0h1m3 0h2m-21 1h0m5 0h0m2 0h0m-4 1h1m2 0h0m2 0h1m3 0h1m3 0h0m-14 1h0m8 0h0m3 0h1m-17 1h0m7 0h0m8 0h0m-13 2h1m3 0h0m-4 1h0" stroke="#e6e6e6" stroke-width="1" stroke-linecap="square" fill="none"/>
<path d="M353.5 387.5h0m4 0h0m10 0h0m15 0h0m-53 1h0m8 0h0m9 0h1m6 0h2m9 0h0m6 0h0m9 0h0m2 0h0m-76 1h0m2 0h0m5 0h0m25 0h0m13 0h0m7 0h2m5 0h0m13 0h3m6 0h0m-72 1h0m14 0h0m11 0h0m28 0h0m3 0h0m14 0h0m-81 1h0m28 0h0m47 0h0m-74 1h0m2 0h0m13 0h0m-16 1h0m7 0h0m7 0h1m2 0h0m66 0h0m-19 1h0m2 0h0m5 0h0m-60 1h0m8 0h0m24 0h0m19 0h0m13 0h0m6 0h0m-82 1h0m18 0h0m21 0h0m5 0h0m23 0h0m-39 1h0m20 0h1m2 0h0m2 0h0m-40 1h0m6 0h0m6 0h0m4 0h0m12 0h1m3 0h0m7 0h0m18 0h0m-37 1h1m3 0h0m4 0h0m4 0h0m9 0h0m-49 1h0m5 0h0m33 0h1m2 0h0m2 0h2m13 0h0m-63 1h0m4 0h0m41 0h0m-6 1h0m3 0h0m7 0h2m3 0h0m16 0h0m8 0h0m-75 1h1m36 0h0m9 0h0m7 0h0m19 0h0m-36 1h0m7 0h0m3 0h0m2 0h0m3 0h1m-46 1h0m25 0h0m3 0h0m2 0h0m2 0h0m5 0h0m6 0h0m2 0h1m3 0h0m-60 1h0m6 0h0m21 0h0m17 0h0m6 0h0m10 0h0m-48 1h0m4 0h0m9 0h0m13 0h0m2 0h0m7 0h0m8 0h0m2 0h0m2 0h0m3 0h0m-61 1h0m6 0h0m37 0h1m2 0h0m13 0h1m-17 1h0m5 0h0m2 0h2m2 0h0m4 0h0m14 0h0m-50 1h0m3 0h0m13 0h0m2 0h0m3 0h2m3 0h1m2 0h2m2 0h0m5 0h0m-22 1h0m4 0h0m6 0h0m3 0h0m5 0h0m2 0h0m-58 1h0m23 0h0m13 0h2m4 0h0m6 0h0m4 0h0m7 0h0m-38 1h0m2 0h0m20 0h0m3 0h0m4 0h0m6 0h0m3 0h0m-19 1h0m3 0h0m2 0h0m6 0h0m-55 1h0m13 0h0m35 0h0m3 0h0m2 0h0m8 0h0m4 0h0m-58 1h0m15 0h0m12 0h0m9 0h0m2 0h0m6 0h0m5 0h0m-50 1h0m10 0h0m22 0h0m10 0h0m2 0h0m8 0h0m4 0h0m-58 1h0m3 0h0m5 0h0m3 0h0m28 0h0m4 0h1m13 0h0m3 0h0m2 0h0m-58 1h0m31 0h0m9 0h0m3 0h1m7 0h0m6 0h0m-62 1h1m4 0h0m27 0h0m6 0h0m9 0h0m3 0h0m5 0h0m3 0h0m2 0h0m-33 1h0m8 0h0m11 0h0m4 0h1m2 0h0m2 0h1m2 0h1m-34 1h0m12 0h1m4 0h0m4 0h0m6 0h2m4 0h0m-61 1h0m14 0h0m17 0h0m10 0h0m3 0h0m5 0h0m2 0h1m5 0h1m-36 1h0m9 0h0m11 0h0m2 0h0m2 0h0m12 0h1m-42 1h0m24 0h2m3 0h1m11 0h0m3 0h1m2 0h0m-41 1h0m11 0h0m2 0h0m9 0h0m9 0h0m4 0h0m-61 1h1m8 0h0m11 0h0m2 0h0m35 0h0m6 0h1m2 0h1m2 0h0m-64 1h0m21 0h0m12 0h0m2 0h0m7 0h0m8 0h0m8 0h1m-61 1h0m23 0h0m6 0h1m4 0h0m7 0h0m4 0h0m7 0h0m6 0h0m7 0h0m-57 1h0m5 0h0m22 0h0m3 0h0m5 0h0m3 0h2m3 0h0m5 0h0m6 0h0m2 0h1m-53 1h0m2 0h0m19 0h0m7 0h0m2 0h0m5 0h2m12 0h0m5 0h1m-56 1h1m16 0h0m13 0h0m3 0h1m2 0h0m2 0h0m5 0h2m2 0h0m2 0h0m4 0h1m-58 1h0m20 0h0m8 0h1m7 0h0m6 0h0m3 0h0m8 0h0m-55 1h0m8 0h1m15 0h2m8 0h0m9 0h0m10 0h0m2 0h0m3 0h1m-56 1h0m6 0h0m3 0h0m5 0h0m8 0h0m3 0h0m6 0h0m7 0h1m2 0h0m10 0h0m8 0h0m-43 1h0m2 0h0m4 0h1m2 0h0m5 0h0m11 0h0m3 0h0m3 0h0m5 0h1m-62 1h0m3 0h0m29 0h0m5 0h0m2 0h0m2 0h0m4 0h0m2 0h1m6 0h0m2 0h1m6 0h0m-47 1h0m8 0h0m7 0h0m4 0h0m2 0h0m10 0h0m4 0h0m3 0h1m2 0h0m10 0h0m-64 1h0m2 0h0m31 0h0m5 0h0m5 0h0m2 0h0m4 0h0m12 0h0m-63 1h1m7 0h1m4 0h0m18 0h0m2 0h2m7 0h0m5 0h2m3 0h0m9 0h0m4 0h1m-64 1h0m28 0h0m2 0h0m2 0h0m4 0h1m3 0h0m2 0h2m18 0h1m-63 1h0m30 0h0m3 0h0m2 0h0m9 0h0m2 0h0m2 0h0m-40 1h0m18 0h0m4 0h0m6 0h0m2 0h0m2 0h0m5 0h0m5 0h0m4 0h1m3 0h0m3 0h0m-57 1h1m8 0h0m3 0h1m7 0h0m3 0h0m8 0h1m6 0h0m4 0h0m2 0h0m4 0h0m4 0h0m-40 1h0m5 0h0m5 0h2m4 0h0m7 0h0m11 0h0m2 0h1m6 0h0m-58 1h1m3 0h0m23 0h0m13 0h0m2 0h0m6 0h0m5 0h1m3 0h0m2 0h0m-62 1h0m8 0h0m15 0h0m4 0h0m2 0h1m2 0h0m16 0h0m3 0h0m-44 1h0m7 0h0m9 0h1m3 0h2m2 0h0m4 0h0m3 0h0m4 0h0m10 0h0m4 0h0m4 0h0m-53 1h0m3 0h0m10 0h0m3 0h1m4 0h0m5 0h0m3 0h1m-37 1h0m26 0h3m3 0h0m2 0h1m4 0h0m5 0h0m5 0h0m3 0h0m6 0h0m-52 1h0m14 0h0m3 0h2m5 0h0m6 0h1m15 0h0m5 0h0m-40 1h0m5 0h0m2 0h0m2 0h0m5 0h0m6 0h0m2 0h0m5 0h0m3 0h0m5 0h0m-42 1h0m6 0h0m10 0h0m11 0h1m5 0h0m4 0h0m4 0h1m-46 1h0m3 0h0m19 0h1m7 0h0m9 0h0m3 0h0m-43 1h0m2 0h0m15 0h0m2 0h0m5 0h1m3 0h0m6 0h1m15 0h0m-41 1h0m11 0h3m3 0h0m10 0h1m7 0h0m3 0h0m-30 1h0m5 0h0m10 0h0m2 0h0m5 0h0m6 0h0m-46 1h0m2 0h0m15 0h0m2 0h0m3 0h0m15 0h0m4 0h0m5 0h0m-45 1h0m3 0h0m2 0h0m2 0h0m3 0h0m6 0h1m3 0h0m4 0h0m4 0h0m3 0h1m11 0h0m-38 1h0m10 0h1m3 0h8m4 0h0m9 0h1m2 0h0m-27 1h0m4 0h1m11 0h0m2 0h0m3 0h0m2 0h1m-30 1h0m3 0h0m5 0h0m3 0h0m4 0h0m-18 1h0m6 0h0m3 0h1m3 0h1m5 0h1m6 0h2m-30 1h0m9 0h0m2 0h0m2 0h0m2 0h0m3 0h0m-21 1h2m7 0h0m3 0h1m3 0h1m3 0h0m3 0h0m8 0h0m-31 1h0m3 0h1m2 0h0m5 0h1m2 0h0m2 0h3m2 0h1m2 0h1m-22 1h0m7 0h0m4 0h2m2 0h1m2 0h0m3 0h0m-15 1h0m4 0h0m4 0h1m2 0h0m-18 1h0m11 0h0m3 0h0" stroke="#cccccc" stroke-width="1" stroke-linecap="square" fill="none"/>
<path d="M356.5 387.5h0m2 0h0m29 0h0m-60 1h0m19 1h0m7 0h0m9 0h0m13 0h0m-44 1h0m-7 1h0m11 0h0m6 0h0m-19 1h0m13 0h0m4 0h0m2 1h1m3 0h0m2 1h0m-21 1h0m17 0h0m-4 1h0m1 1h0m-20 1h0m13 0h0m-6 1h0m2 1h0m2 0h0m2 0h0m2 0h0m-7 1h0m7 0h0m-10 1h0m7 0h0m16 0h0m-21 1h0m5 0h0m-16 1h1m5 0h0m6 0h0m9 0h0m-9 1h0m4 0h0m5 0h0m8 0h0m-26 1h0m6 0h0m14 0h0m-10 1h2m2 0h0m-9 1h1m7 0h0m-3 1h0m6 0h0m-19 1h0m12 0h0m2 0h0m2 0h0m-1 1h0m2 0h0m9 0h0m-11 1h0m1 1h0m2 0h0m-8 1h0m2 0h0m2 0h0m5 0h0m-7 1h0m0 1h0m2 0h0m7 1h0m-7 2h0m0 5h0m19 10h0" stroke="#4d4d4d" stroke-width="1" stroke-linecap="square" fill="none"/>
<path d="M376.5 392.5h0" stroke="#424242" stroke-width="1" stroke-linecap="square" fill="none"/>
<path d="M370.5 398.5h0m3 25h0" stroke="#2e2e2e" stroke-width="1" stroke-linecap="square" fill="none"/>
<path d="M385.5 399.5h0m-12 15h0" stroke="#565656" stroke-width="1" stroke-linecap="square" fill="none"/>
<path d="M378.5 408.5h0m-1 7h0m4 31h0" stroke="#1a1a1a" stroke-width="1" stroke-linecap="square" fill="none"/>
<polygon points="293,451 296.6,446.6 305.2,470.3 293,470.3" fill="#000"/>
<polygon points="304.2,387.2 293.9,428.3 293.8,440.8 296.0,447.0 305.4,469.8 322.7,469.5 338.0,465.0 352.4,456.4 364.9,441.0 364.0,410.0 360.1,403.3 355.3,396.6 345.7,393.2 338.0,388.8 320.0,387.4" fill="none" stroke="#222" stroke-width="1.0"/>
<text x="329" y="432" font-size="6.6" text-anchor="middle" fill="#222">P1</text>
<rect x="291.6" y="386.9" width="96.7" height="84.3" fill="none" stroke="#111" stroke-width="1"/>
<rect x="396.2" y="375.3" width="118.4" height="119.5" fill="none" stroke="#555" stroke-width="1"/>
<text x="464.5" y="368.3" font-size="9.8" font-style="italic" text-anchor="middle" fill="#111">PIT1<tspan font-size="6.3" dy="-4.3">neo/neo</tspan></text>
<path d="M414.3 471.2H416.6M414.3 468.0H416.6M414.3 464.8H416.6M414.3 461.6H416.6M414.3 458.4H416.6M412.3 455.2H416.6M414.3 452.0H416.6M414.3 448.8H416.6M414.3 445.6H416.6M414.3 442.4H416.6M412.3 439.2H416.6M414.3 436.0H416.6M414.3 432.8H416.6M414.3 429.6H416.6M414.3 426.4H416.6M412.3 423.2H416.6M414.3 420.0H416.6M414.3 416.8H416.6M414.3 413.6H416.6M414.3 410.4H416.6M412.3 407.2H416.6M414.3 404.0H416.6M414.3 400.8H416.6M414.3 397.6H416.6M414.3 394.4H416.6M412.3 391.2H416.6M414.3 388.0H416.6M415.6 471.2V474.2M419.3 471.2V474.2M422.9 471.2V474.2M426.6 471.2V474.2M430.2 471.2V474.2M433.9 471.2V476.2M437.6 471.2V474.2M441.2 471.2V474.2M444.9 471.2V474.2M448.5 471.2V474.2M452.2 471.2V476.2M455.9 471.2V474.2M459.5 471.2V474.2M463.2 471.2V474.2M466.8 471.2V474.2M470.5 471.2V476.2M474.2 471.2V474.2M477.8 471.2V474.2M481.5 471.2V474.2M485.1 471.2V474.2M488.8 471.2V476.2M492.5 471.2V474.2M496.1 471.2V474.2M499.8 471.2V474.2M503.4 471.2V474.2M507.1 471.2V476.2M510.8 471.2V474.2" stroke="#222" stroke-width="0.9" fill="none"/>
<text x="410.2" y="457.0" font-size="5.2" text-anchor="middle" fill="#222" transform="rotate(-90 410.2 455.2)">50</text>
<text x="433.9" y="482.6" font-size="5.2" text-anchor="middle" fill="#222">50</text>
<text x="410.2" y="441.0" font-size="5.2" text-anchor="middle" fill="#222" transform="rotate(-90 410.2 439.2)">100</text>
<text x="452.2" y="482.6" font-size="5.2" text-anchor="middle" fill="#222">100</text>
<text x="410.2" y="425.0" font-size="5.2" text-anchor="middle" fill="#222" transform="rotate(-90 410.2 423.2)">150</text>
<text x="470.5" y="482.6" font-size="5.2" text-anchor="middle" fill="#222">150</text>
<text x="410.2" y="409.0" font-size="5.2" text-anchor="middle" fill="#222" transform="rotate(-90 410.2 407.2)">200</text>
<text x="488.8" y="482.6" font-size="5.2" text-anchor="middle" fill="#222">200</text>
<text x="410.2" y="393.0" font-size="5.2" text-anchor="middle" fill="#222" transform="rotate(-90 410.2 391.2)">250</text>
<text x="507.1" y="482.6" font-size="5.2" text-anchor="middle" fill="#222">250</text>
<text x="404.0" y="398.6" font-size="4.8" text-anchor="middle" fill="#222" transform="rotate(-90 404.0 396.8)">x 1,000</text>
<text x="505.3" y="489.5" font-size="4.8" text-anchor="middle" fill="#222">(x 1,000)</text>
<text x="465.4" y="491.4" font-size="10.3" text-anchor="middle" fill="#111">FSC</text>
<text x="405.5" y="427.4" font-size="10.3" text-anchor="middle" fill="#111" transform="rotate(-90 405.5 427.4)">SSC</text>
<path d="M426.5 387.5h0m7 0h0m3 0h0m14 0h0m21 0h0m21 0h0m8 0h0m-74 1h3m3 0h1m4 0h0m2 0h1m25 0h0m-28 1h0m3 0h0m9 0h0m2 0h0m-12 1h0m-4 4h0m9 0h0m-4 2h0m-6 3h0m7 0h0m-6 4h0m0 3h0m4 0h0m-8 2h0m8 1h0m3 1h0m-5 1h0m1 1h0m3 0h0m-6 3h0m6 0h0m4 0h0m-14 1h0m9 0h0m-1 1h0m18 0h0m-6 1h0m-17 1h0m4 0h0m2 0h0m3 0h0m-2 3h0m-4 1h0m-3 3h0m4 1h0m-5 2h0m2 0h0m0 1h0m4 0h0m-7 1h0m2 0h0m10 1h0m-9 1h0m2 1h0m0 1h0m0 3h0m10 0h0m-12 1h0m19 0h0m-16 1h0m9 1h0m5 0h0m-6 1h0m5 1h0m-10 1h0m16 0h1m4 0h0m-14 1h0m3 0h0m-14 1h0m11 0h0m11 0h0m-16 1h0m5 0h0m12 0h0m-19 3h0m3 0h0m2 0h0m-1 1h0m5 0h0m5 0h0m2 2h0m-11 1h0" stroke="#333333" stroke-width="1" stroke-linecap="square" fill="none"/>
<path d="M427.5 387.5h1m2 0h0m4 0h0m3 0h1m2 0h1m-11 1h0m4 0h2m8 0h1m3 0h0m62 0h0m-74 5h0m-2 3h0m9 3h0m-8 5h0m-2 3h0m6 0h0m1 1h0m-6 5h1m5 0h0m24 0h0m-32 2h0m5 0h0m1 2h0m2 0h0m-4 1h0m4 0h0m1 1h0m-3 1h0m-2 3h0m4 1h0m-3 4h0m1 4h0m17 1h0m-13 3h0m9 0h0m-3 1h0m-15 2h0m25 0h0m-3 1h0m-12 1h0m3 0h0m7 0h0m-14 2h0m2 0h0m8 0h0m-7 2h0m7 1h0m8 0h0m-6 3h3m-5 1h0m8 0h1m-7 1h0m2 1h1m-11 1h0m8 0h0" stroke="#191919" stroke-width="1" stroke-linecap="square" fill="none"/>
<path d="M429.5 387.5h0m6 0h0m7 0h3m9 0h0m4 0h0m4 0h0m2 0h1m-24 1h2m7 0h0m-3 1h0m24 0h0m-34 8h0m1 6h0m0 2h0m-3 9h0m0 5h0m4 7h0m2 4h0m0 9h0m8 1h0m11 0h0m-12 3h0m2 0h0m-2 1h0m4 0h1m-1 1h0m1 1h0m-3 1h0m3 0h0m-4 1h0m7 2h0m-7 3h0" stroke="#000000" stroke-width="1" stroke-linecap="square" fill="none"/>
<path d="M431.5 387.5h1m7 0h0m13 0h0m27 0h0m-48 1h0m7 0h0m19 0h0m6 0h0m6 0h0m2 0h0m11 0h0m15 0h0m-41 1h2m4 0h0m5 0h0m-31 1h0m1 2h0m5 2h0m-9 1h0m6 0h0m-6 1h0m6 0h0m2 0h0m5 0h0m-18 1h0m5 0h0m3 0h0m2 0h0m18 0h0m-18 1h0m-3 1h0m3 0h0m1 1h0m-3 1h0m2 0h1m2 0h0m17 0h0m-16 1h0m-9 1h1m-2 1h0m5 0h1m2 0h0m7 0h0m-1 2h0m7 0h0m-15 1h0m9 0h0m7 0h0m-22 1h1m2 0h0m2 0h0m6 0h0m3 0h0m-11 1h0m2 0h0m16 0h0m-20 1h0m5 0h0m22 0h1m-29 1h0m2 0h0m2 0h0m2 0h1m7 0h0m-3 1h1m-12 1h0m4 0h0m3 0h0m-7 1h0m7 1h0m-7 1h0m2 0h0m0 1h1m3 1h0m6 0h0m5 0h0m-17 2h2m9 0h0m2 0h0m9 0h0m-22 1h0m3 0h1m2 0h0m-1 1h0m2 1h0m22 0h0m-28 1h0m4 0h0m18 0h0m-21 1h0m3 0h0m5 0h0m-10 1h0m6 0h0m2 0h0m4 0h1m-11 1h0m5 0h0m8 0h0m4 0h0m-17 1h1m3 0h0m-2 1h0m8 0h0m-8 1h0m2 0h0m-8 1h0m24 0h0m-14 1h0m16 0h0m-17 1h0m5 0h0m6 0h0m7 0h0m-21 1h0m10 0h0m2 0h0m-8 1h0m-6 1h0m4 0h0m-3 1h0m4 0h1m2 0h0m8 0h0m-10 1h0m14 0h0m-9 1h0m3 0h0m8 0h0m-19 1h0m3 0h0m4 0h0m8 0h1m-15 1h0m2 0h0m8 0h1m-12 1h0m7 0h0m7 0h0m6 0h0m1 1h1m-21 1h0m2 0h0m11 0h0m4 0h0m-15 1h0m3 0h0m3 0h0m9 0h0m-20 1h1m14 0h0m2 0h0m3 0h0m-21 1h0m7 0h1m3 0h0m2 0h0m2 0h0m7 0h0m-20 1h0m5 0h0m5 0h0m9 0h1m7 0h0m-26 1h0m7 0h0m5 0h0m2 1h0m11 0h0m-24 1h0m8 0h0m-10 1h0m6 0h0m2 0h0m3 0h0m1 1h0m2 0h0m2 0h0m-13 1h0m2 0h0m2 0h0m9 0h0m-6 1h0m4 0h2m-12 1h0m12 0h1m6 0h0m-3 1h1m-4 1h0m-6 1h0" stroke="#4d4d4d" stroke-width="1" stroke-linecap="square" fill="none"/>
<path d="M446.5 387.5h0m2 0h0m21 0h1m4 0h0m12 0h0m3 0h0m8 0h0m13 0h0m2 0h0m-65 1h0m4 0h0m3 0h0m4 0h0m4 0h0m12 0h0m19 0h1m6 0h0m6 0h0m6 0h0m-83 1h0m2 0h0m4 0h0m3 0h1m5 0h1m5 0h0m4 0h0m5 0h0m5 0h0m6 0h0m-42 1h1m2 0h0m14 0h2m2 0h4m-24 1h0m3 0h1m2 0h0m2 0h0m7 0h0m3 0h0m4 0h4m3 0h1m-32 1h3m13 0h0m2 0h0m2 0h1m11 0h0m4 0h1m-35 1h1m2 0h1m10 0h0m3 0h1m3 0h0m2 0h0m4 0h0m2 0h1m-29 1h0m4 0h0m5 0h0m8 0h0m4 0h0m2 0h0m3 0h1m4 0h0m2 0h0m5 0h0m-40 1h0m2 0h0m12 0h0m2 0h0m3 0h0m2 0h1m4 0h1m2 0h0m4 0h0m2 0h0m-36 1h4m7 0h0m11 0h0m7 0h1m4 0h0m2 0h1m3 0h0m2 0h0m-43 1h0m3 0h0m5 0h0m5 0h0m8 0h0m3 0h0m3 0h2m2 0h0m4 0h1m2 0h0m-38 1h2m2 0h1m9 0h0m7 0h0m3 0h1m2 0h0m5 0h2m2 0h0m2 0h0m2 0h0m2 0h0m-41 1h1m22 0h0m2 0h0m4 0h1m4 0h0m14 0h1m-49 1h0m2 0h0m3 0h1m2 0h0m2 0h1m4 0h0m2 0h0m7 0h0m2 0h0m4 0h0m2 0h0m6 0h0m4 0h0m-44 1h2m4 0h1m2 0h0m8 0h0m2 0h0m3 0h4m2 0h0m6 0h1m-32 1h1m3 0h1m5 0h0m8 0h0m3 0h1m5 0h0m4 0h0m20 0h0m-53 1h1m9 0h0m9 0h0m2 0h1m3 0h1m4 0h0m2 0h0m-29 1h0m5 0h0m10 0h0m4 0h2m4 0h0m4 0h1m3 0h0m5 0h1m9 0h0m-53 1h0m2 0h3m3 0h0m7 0h1m12 0h1m3 0h0m2 0h0m6 0h0m4 0h0m-40 1h0m6 0h0m2 0h0m15 0h0m4 0h0m4 0h0m2 0h0m5 0h0m13 0h0m-49 1h0m2 0h0m3 0h0m2 0h0m3 0h0m6 0h0m4 0h0m2 0h1m10 0h0m2 0h0m3 0h0m-44 1h0m2 0h0m10 0h0m15 0h0m6 0h1m-35 1h0m4 0h0m2 0h0m18 0h0m4 0h0m7 0h0m3 0h1m6 0h0m-45 1h0m3 0h0m4 0h1m10 0h0m5 0h2m3 0h0m2 0h1m4 0h0m6 0h0m-39 1h0m2 0h2m6 0h0m13 0h0m2 0h2m5 0h0m4 0h0m9 0h1m2 0h0m10 0h0m-59 1h0m2 0h1m3 0h0m2 0h0m5 0h0m15 0h0m5 0h0m3 0h0m4 0h0m2 0h1m3 0h0m3 0h1m14 0h0m-65 1h1m18 0h2m4 0h0m7 0h0m4 0h0m6 0h0m2 0h0m10 0h2m-56 1h0m5 0h0m3 0h0m22 0h0m2 0h0m10 0h0m3 0h1m8 0h0m5 0h0m-55 1h0m2 0h0m2 0h0m2 0h0m5 0h0m2 0h0m15 0h0m5 0h0m3 0h0m8 0h0m-48 1h0m2 0h0m21 0h0m2 0h4m2 0h2m4 0h0m2 0h0m-36 1h1m6 0h0m3 0h0m6 0h0m2 0h0m2 0h0m7 0h0m3 0h0m3 0h0m4 0h0m-42 1h0m2 0h0m6 0h0m4 0h0m13 0h0m2 0h0m6 0h0m3 0h1m2 0h0m7 0h0m11 0h0m7 0h0m-61 1h0m2 0h1m3 0h0m6 0h1m2 0h0m13 0h0m2 0h1m4 0h0m7 0h0m2 0h0m-45 1h0m3 0h0m9 0h0m2 0h0m15 0h0m5 0h0m2 0h0m6 0h0m10 0h0m9 0h0m-63 1h1m5 0h0m2 0h0m5 0h0m7 0h0m3 0h0m2 0h0m3 0h0m2 0h1m2 0h2m2 0h0m4 0h0m3 0h0m3 0h0m13 0h0m-59 1h0m2 0h0m3 0h0m6 0h0m5 0h0m5 0h0m2 0h0m2 0h1m2 0h0m6 0h1m17 0h0m-53 1h0m2 0h1m3 0h0m7 0h0m7 0h0m5 0h0m3 0h0m19 0h1m-49 1h0m2 0h0m6 0h0m3 0h0m11 0h2m2 0h1m6 0h1m2 0h0m4 0h0m8 0h1m15 0h0m-64 1h0m2 0h4m3 0h1m2 0h1m2 0h0m10 0h0m2 0h2m2 0h0m2 0h0m3 0h0m5 0h0m15 0h1m-54 1h1m2 0h1m23 0h0m3 0h1m3 0h0m4 0h0m14 0h0m-56 1h0m4 0h0m6 0h1m2 0h0m3 0h0m8 0h0m6 0h0m5 0h0m2 0h0m2 0h0m10 0h1m2 0h0m7 0h0m3 0h0m-56 1h1m3 0h0m3 0h0m7 0h0m13 0h0m3 0h0m3 0h0m12 0h1m2 0h0m8 0h0m-62 1h0m5 0h1m3 0h1m9 0h0m5 0h0m3 0h0m11 0h0m4 0h0m-41 1h0m3 0h0m3 0h0m4 0h1m15 0h1m2 0h1m8 0h0m12 0h0m9 0h0m10 0h0m-70 1h0m6 0h0m8 0h0m7 0h0m3 0h1m4 0h0m8 0h1m4 0h0m12 0h0m-51 1h0m5 0h0m6 0h0m3 0h0m3 0h0m2 0h1m3 0h0m6 0h0m6 0h0m9 0h1m7 0h0m-52 1h0m2 0h0m3 0h1m6 0h0m2 0h0m2 0h0m9 0h2m3 0h1m6 0h0m16 0h0m-56 1h0m2 0h0m2 0h0m3 0h0m2 0h0m5 0h0m9 0h0m2 0h0m7 0h1m2 0h0m6 0h2m2 0h0m6 0h0m-48 1h0m2 0h0m4 0h0m6 0h0m2 0h0m6 0h1m7 0h0m2 0h0m4 0h0m2 0h0m12 0h0m3 0h0m8 0h0m2 0h0m3 0h0m-65 1h0m4 0h0m2 0h2m7 0h0m11 0h0m3 0h0m15 0h0m5 0h0m3 0h0m6 0h0m2 0h0m-61 1h1m4 0h1m2 0h0m3 0h0m12 0h0m9 0h0m7 0h2m4 0h0m9 0h0m-55 1h0m3 0h2m3 0h0m2 0h0m17 0h0m6 0h0m4 0h0m17 0h1m4 0h0m-59 1h0m6 0h0m2 0h1m4 0h0m10 0h0m4 0h0m13 0h0m4 0h1m2 0h0m2 0h0m21 0h0m-67 1h0m3 0h0m2 0h0m3 0h0m11 0h0m7 0h0m20 0h0m9 0h1m-53 1h1m3 0h3m7 0h0m2 0h0m14 0h0m3 0h0m3 0h1m3 0h0m4 0h0m-47 1h0m2 0h0m2 0h0m3 0h0m3 0h1m5 0h0m4 0h0m10 0h0m3 0h1m5 0h0m2 0h1m2 0h0m17 0h0m5 0h0m-68 1h2m5 0h1m3 0h0m3 0h0m2 0h0m11 0h0m6 0h0m2 0h0m19 0h0m3 0h0m-57 1h0m8 0h0m4 0h0m7 0h0m4 0h1m2 0h0m3 0h1m6 0h0m3 0h1m4 0h0m15 0h0m-58 1h0m3 0h0m2 0h0m3 0h0m2 0h0m5 0h0m45 0h0m-60 1h1m4 0h0m3 0h0m2 0h0m2 0h0m5 0h0m6 0h0m16 0h0m3 0h0m2 0h0m15 0h0m-53 1h2m8 0h1m14 0h0m10 0h0m5 0h0m15 0h0m-58 1h3m2 0h0m4 0h0m5 0h2m5 0h0m3 0h0m3 0h0m3 0h0m4 0h0m3 0h0m-39 1h0m3 0h0m4 0h0m7 0h0m4 0h0m6 0h0m4 0h0m6 0h0m4 0h0m-37 1h0m3 0h0m6 0h1m2 0h0m2 0h0m3 0h0m14 0h0m23 0h0m-53 1h0m3 0h0m2 0h0m20 0h0m10 0h1m2 0h0m11 0h0m-50 1h1m6 0h0m3 0h1m12 0h0m4 0h0m2 0h0m3 0h0m4 0h0m13 0h0m-46 1h1m4 0h1m4 0h2m9 0h0m7 0h0m9 0h0m5 0h1m8 0h0m-51 1h1m2 0h0m5 0h0m10 0h0m3 0h0m4 0h0m6 0h0m2 0h1m2 0h0m9 0h0m-46 1h2m5 0h0m6 0h1m2 0h1m3 0h0m11 0h0m10 0h0m-35 1h0m4 0h1m3 0h0m7 0h0m9 0h0m7 0h0m5 0h0m7 0h1m-46 1h1m10 0h0m7 0h1m2 0h0m-22 1h1m6 0h0m13 0h0m8 0h0m6 0h0m4 0h0m-40 1h0m2 0h0m6 0h1m11 0h0m5 0h0m-21 1h0m3 0h2m3 0h0m2 0h2m4 0h0m2 0h0m7 0h0m10 0h0m-37 1h1m2 0h0m2 0h0m3 0h0m2 0h0m5 0h1m8 0h0m-25 1h2m4 0h0m4 0h0m5 0h0m3 0h0m2 0h0m14 0h0m-32 1h0m6 0h0m3 0h0m4 0h0m-10 1h0m3 0h0m5 0h1m-11 1h1m2 0h2m2 0h1m2 0h0m17 0h0m-25 1h0m4 0h2m4 0h0m9 0h0m-21 1h0m7 0h0m10 0h0m-16 1h0m3 0h0m2 0h0m2 0h0m3 0h0m2 0h0m4 0h0m-17 1h0m2 0h0m3 0h0m4 0h0m4 0h0m3 0h0" stroke="#999999" stroke-width="1" stroke-linecap="square" fill="none"/>
<path d="M447.5 387.5h0m21 0h0m9 0h0m3 0h0m2 0h1m4 0h0m3 0h0m6 0h0m15 0h0m-50 1h0m3 0h0m2 0h0m2 0h0m5 0h0m6 0h0m5 0h0m2 0h1m3 0h0m2 0h0m15 0h0m2 0h0m-48 1h0m2 0h0m33 0h0m-52 1h0m45 0h0m-28 1h1m35 0h0m-43 1h0m3 0h0m4 0h0m4 0h0m-23 1h0m3 0h0m16 0h0m7 0h0m29 0h0m5 0h0m-53 1h0m6 0h0m12 0h0m2 0h0m6 0h0m-24 1h0m15 0h0m10 0h0m3 0h0m24 0h0m2 0h0m2 0h0m-81 1h0m9 0h0m15 0h0m8 0h0m4 0h0m8 0h1m3 0h0m2 0h1m2 0h0m16 0h0m15 0h0m-50 1h0m7 0h1m2 0h1m4 0h1m3 0h0m22 0h0m4 0h0m3 0h0m-69 1h0m2 0h0m14 0h1m11 0h0m2 0h4m2 0h0m2 0h0m2 0h1m15 0h0m11 0h0m-43 1h0m5 0h0m3 0h0m9 0h1m17 0h0m-44 1h0m10 0h0m2 0h1m6 0h2m-20 1h0m25 0h0m32 0h0m-87 1h0m16 0h0m23 0h0m4 0h0m7 0h0m2 0h0m3 0h0m3 0h0m7 0h0m17 0h0m-77 1h1m9 0h0m28 0h1m6 0h0m4 0h0m26 0h0m-80 1h0m14 0h0m30 0h0m7 0h0m6 0h0m2 0h0m17 0h0m-56 1h0m28 0h0m6 0h1m2 0h2m-21 1h0m20 0h0m2 0h0m-54 1h0m29 0h1m6 0h0m5 0h0m2 0h2m5 0h1m-57 1h0m37 0h1m9 0h0m2 0h2m2 0h0m13 0h0m-67 1h0m2 0h0m16 0h0m24 0h0m7 0h0m5 0h0m2 0h0m2 0h0m-58 1h0m12 0h0m23 0h0m4 0h0m10 0h1m4 0h0m2 0h0m3 0h0m-59 1h0m2 0h0m16 0h0m17 0h0m8 0h0m2 0h0m3 0h0m2 0h2m4 0h0m2 0h0m12 0h0m-71 1h0m2 0h0m11 0h0m26 0h1m6 0h0m3 0h0m7 0h0m6 0h1m-61 1h0m13 0h0m19 0h0m5 0h0m9 0h0m5 0h0m9 0h0m-23 1h1m3 0h0m12 0h0m3 0h0m3 0h0m4 0h0m-42 1h0m12 0h0m10 0h0m5 0h0m6 0h0m5 0h0m-54 1h0m6 0h0m38 0h0m-50 1h0m19 0h0m7 0h2m2 0h0m11 0h2m13 0h3m3 0h0m-62 1h0m11 0h0m12 0h0m16 0h0m3 0h0m6 0h0m7 0h1m-51 1h0m16 0h0m15 0h1m2 0h1m3 0h0m2 0h0m4 0h0m6 0h1m3 0h0m2 0h0m-57 1h0m48 0h0m2 0h1m2 0h1m-59 1h1m29 0h0m7 0h0m4 0h0m8 0h0m3 0h0m4 0h0m3 0h2m3 0h0m-66 1h0m15 0h0m19 0h0m3 0h0m2 0h0m6 0h1m4 0h0m5 0h0m3 0h0m-54 1h0m22 0h0m7 0h0m6 0h0m6 0h0m4 0h0m8 0h1m2 0h0m4 0h0m2 0h1m-62 1h0m22 0h0m9 0h0m2 0h0m3 0h0m8 0h1m2 0h0m4 0h1m4 0h0m6 0h0m-60 1h0m16 0h0m8 0h0m14 0h0m3 0h0m10 0h0m7 0h2m-68 1h0m8 0h0m31 0h0m5 0h1m2 0h0m9 0h1m2 0h0m2 0h0m-56 1h0m27 0h0m10 0h0m4 0h0m4 0h0m3 0h0m6 0h0m8 0h0m-66 1h0m32 0h0m3 0h1m3 0h1m18 0h0m3 0h1m-53 1h0m17 0h2m22 0h0m2 0h0m3 0h0m6 0h0m-53 1h0m5 0h0m20 0h0m2 0h0m3 0h0m3 0h2m4 0h0m3 0h0m2 0h0m2 0h0m2 0h0m7 0h1m-63 1h1m5 0h0m23 0h0m12 0h0m3 0h2m4 0h0m5 0h1m7 0h0m-66 1h0m5 0h0m36 0h0m2 0h0m2 0h1m5 0h1m7 0h2m5 0h1m-57 1h2m23 0h0m4 0h0m3 0h0m4 0h0m5 0h1m8 0h0m10 0h0m-65 1h0m33 0h0m2 0h0m6 0h0m4 0h0m6 0h0m5 0h0m3 0h1m4 0h0m-68 1h1m36 0h0m14 0h0m7 0h0m-54 1h0m22 0h0m8 0h0m15 0h0m6 0h0m11 0h1m-65 1h0m32 0h0m15 0h0m3 0h0m6 0h0m4 0h0m7 0h0m-50 1h0m3 0h0m17 0h0m4 0h1m2 0h0m3 0h0m2 0h0m6 0h0m4 0h0m3 0h0m-64 1h1m18 0h0m10 0h0m6 0h0m5 0h1m11 0h0m3 0h0m6 0h3m2 0h0m-62 1h0m4 0h0m22 0h0m6 0h0m17 0h0m7 0h1m2 0h2m4 0h0m-66 1h0m36 0h0m5 0h0m15 0h0m5 0h0m5 0h0m-35 1h0m22 0h0m8 0h0m-61 1h0m3 0h0m4 0h0m3 0h0m32 0h0m8 0h0m12 0h2m-62 1h1m4 0h0m3 0h1m20 0h0m15 0h0m3 0h1m4 0h0m6 0h1m-61 1h0m42 0h0m3 0h1m4 0h1m5 0h0m4 0h1m-39 1h0m9 0h0m10 0h0m6 0h0m8 0h0m-57 1h0m5 0h0m4 0h0m3 0h0m22 0h0m6 0h0m2 0h0m2 0h0m7 0h0m4 0h0m2 0h0m2 0h0m-18 1h0m6 0h1m2 0h0m-14 1h0m13 0h1m3 0h0m3 0h0m-49 1h0m24 0h0m9 0h0m3 0h0m4 0h0m2 0h0m5 0h1m3 0h1m-33 1h1m5 0h0m12 0h0m2 0h0m2 0h1m4 0h0m4 0h0m-53 1h0m2 0h0m8 0h0m6 0h0m8 0h0m15 0h0m4 0h1m7 0h3m-51 1h1m12 0h0m3 0h0m9 0h0m21 0h0m-36 1h0m16 0h0m7 0h0m5 0h0m2 0h0m4 0h0m2 0h0m-21 1h0m4 0h0m5 0h1m2 0h0m4 0h1m5 0h1m-12 1h0m2 0h0m3 0h1m2 0h0m-45 1h0m16 0h0m10 0h1m6 0h0m2 0h0m2 0h0m4 0h0m4 0h0m-41 1h0m3 0h0m27 0h0m3 0h0m-26 1h0m4 0h1m10 0h0m5 0h0m6 0h1m-36 1h0m16 0h0m7 0h0m7 0h0m10 0h0m-37 1h0m10 0h0m6 0h0m3 0h0m14 0h0m-35 1h0m8 0h0m12 0h0m4 0h0m3 0h0m2 0h0m5 0h0m-32 1h0m9 0h0m2 0h0m3 0h2m3 0h0m8 0h0m-31 1h1m15 0h0m4 0h0m2 0h0m5 0h0m3 0h0m3 0h0m2 0h0m-34 1h0m18 0h0m3 0h0m8 0h0m-27 1h0m8 0h0m8 0h1m5 0h0m3 0h0m-21 1h0m6 0h1m4 0h0m3 0h0m3 0h0m-8 1h0m2 0h0m2 0h0m2 0h0m-8 1h0" stroke="#cccccc" stroke-width="1" stroke-linecap="square" fill="none"/>
<path d="M449.5 387.5h0m4 0h0m2 0h1m5 0h0m11 0h0m13 0h0m8 0h0m9 0h0m4 0h0m-53 1h0m2 0h1m11 0h0m13 0h0m11 0h0m4 0h0m7 0h0m-72 1h0m16 0h0m7 0h0m7 0h0m5 0h0m-33 1h0m2 0h0m6 0h0m2 0h0m-6 1h0m7 0h0m-10 1h0m2 0h0m4 0h0m5 0h0m9 0h0m13 0h1m-40 1h0m7 0h0m14 0h0m-8 1h1m5 0h0m13 0h0m3 0h0m-26 1h0m4 0h1m17 0h0m-26 1h0m4 0h0m8 0h0m3 0h0m4 0h0m15 0h0m-36 1h1m9 0h0m3 0h0m6 0h0m10 0h0m-24 1h2m7 0h0m10 0h0m-22 1h0m10 0h0m2 0h0m9 0h1m4 0h0m-22 1h0m4 0h1m2 0h0m4 0h2m9 0h0m-30 1h1m4 0h0m7 0h0m5 0h0m12 0h0m7 0h0m5 0h0m-35 1h0m3 0h0m7 0h0m8 0h0m4 0h1m-28 1h0m8 0h0m6 0h1m5 0h0m6 0h0m5 0h0m2 0h0m2 0h0m-31 1h0m8 0h0m2 0h0m2 0h0m-10 1h0m2 0h0m9 0h0m2 0h0m6 0h0m13 0h0m-30 1h1m5 0h0m2 0h0m2 0h0m2 0h0m8 0h1m-24 1h0m7 0h0m7 0h0m3 0h0m11 0h0m-20 1h0m3 0h0m5 0h0m5 0h0m4 0h0m10 0h0m-37 1h2m2 0h0m2 0h0m3 0h0m3 0h0m2 0h0m2 0h0m8 0h1m-29 1h0m4 0h0m5 0h0m2 0h0m23 0h0m-29 1h0m7 0h1m2 0h0m6 0h0m7 0h0m-22 1h0m8 0h0m4 0h4m-23 1h0m3 0h0m7 0h0m4 0h0m6 0h0m2 0h1m4 0h0m7 0h0m-31 1h0m3 0h0m3 0h2m6 0h2m4 0h1m-23 1h0m2 0h0m21 0h2m-24 1h0m8 0h1m5 0h1m3 0h0m12 0h0m23 0h0m-41 1h0m7 0h0m-23 1h0m6 0h0m3 0h0m5 0h0m11 0h0m3 0h0m-21 1h1m9 0h0m2 0h0m4 0h2m8 0h0m-28 1h0m6 0h0m4 0h0m2 0h0m9 0h0m-18 1h0m6 0h1m5 0h0m3 0h0m-18 1h0m2 0h0m2 0h0m8 0h0m2 0h0m8 0h0m10 0h0m-30 1h1m2 0h0m9 0h1m7 0h0m-17 1h0m3 0h1m13 0h0m-21 1h0m7 0h0m2 0h1m-8 1h0m3 0h0m5 0h2m4 0h1m22 0h0m-33 1h0m5 0h0m4 0h0m18 0h0m-37 1h1m2 0h1m2 0h0m3 0h0m4 0h0m3 0h0m2 0h0m4 0h1m-19 1h1m5 0h0m4 0h0m9 0h0m-17 1h0m9 0h0m2 0h0m4 0h0m4 0h1m-18 1h1m9 0h0m10 0h0m-24 1h0m3 0h0m9 0h0m11 0h0m14 0h0m-28 1h0m2 0h0m4 0h0m-12 1h0m7 0h0m2 0h0m4 0h0m2 0h0m-14 1h0m6 0h0m3 0h0m3 0h0m4 0h0m2 0h0m-16 1h0m6 0h0m9 0h0m3 0h2m3 0h0m14 0h0m-44 1h0m4 0h0m10 0h0m2 0h0m3 0h0m8 0h0m-22 1h1m7 0h0m2 0h0m12 0h0m-21 1h2m5 0h1m3 0h0m4 0h1m-19 1h1m8 0h1m2 0h2m20 0h0m-30 1h0m7 0h0m-9 1h1m4 0h0m5 0h0m3 0h1m9 0h0m2 0h0m-25 1h0m3 0h0m5 0h1m12 0h1m-21 1h1m8 0h0m2 0h0m-9 1h1m2 0h0m4 0h0m2 0h0m7 0h0m3 0h0m6 0h0m7 0h0m-31 1h1m2 0h1m13 0h0m2 0h0m13 0h0m-39 1h0m7 0h0m12 0h0m-21 1h0m4 0h1m7 0h0m-11 1h0m3 0h0m5 0h0m9 0h0m7 0h0m8 0h0m-33 1h1m3 0h0m2 0h0m7 0h0m7 0h0m16 0h0m-32 1h1m5 0h0m2 0h0m10 0h0m2 0h0m-23 1h0m6 0h0m19 0h0m10 0h0m-32 1h0m8 0h0m-2 1h0m2 0h0m3 0h0m-8 1h0m6 0h1m3 0h0m2 0h0m-7 1h0m9 0h0m3 0h0m-20 1h0m2 0h0m5 0h0m4 0h0m6 0h0m-18 1h0m4 0h0m5 0h0m3 0h2m8 0h0m-16 1h0m9 0h0m-9 1h0" stroke="#666666" stroke-width="1" stroke-linecap="square" fill="none"/>
<path d="M451.5 387.5h0m6 0h0m9 0h0m10 0h0m2 0h0m10 0h0m20 0h0m-59 1h0m10 0h1m23 0h0m5 0h0m17 0h0m6 0h0m-77 1h0m2 0h0m5 0h1m-12 1h0m3 0h0m4 0h1m3 0h0m2 0h0m13 0h1m-29 1h0m10 0h0m2 0h1m7 0h0m2 0h0m6 0h1m3 0h0m-29 1h1m4 0h0m2 0h0m2 0h2m4 0h0m3 0h0m2 0h0m4 0h0m7 0h0m-27 1h0m3 0h1m2 0h0m3 0h0m5 0h0m4 0h2m-27 1h0m3 0h0m5 0h2m5 0h0m2 0h0m5 0h0m10 0h0m-29 1h1m2 0h0m3 0h1m5 0h0m2 0h0m11 0h0m3 0h1m-23 1h0m6 0h0m2 0h0m3 0h0m12 0h0m-28 1h0m3 0h0m9 0h0m2 0h0m2 0h0m25 0h0m-44 1h0m3 0h2m8 0h0m3 0h1m2 0h0m9 0h0m17 0h0m-45 1h0m2 0h0m2 0h0m3 0h1m2 0h0m6 0h1m3 0h0m2 0h0m4 0h0m5 0h0m-32 1h0m2 0h0m4 0h0m11 0h1m6 0h0m24 0h0m-41 1h0m2 0h0m9 0h0m6 0h0m2 0h0m2 0h0m7 0h0m3 0h1m-40 1h0m3 0h1m4 0h0m8 0h0m2 0h0m3 0h0m6 0h0m4 0h0m2 0h1m4 0h1m-24 1h0m4 0h0m4 0h0m3 0h1m3 0h0m-31 1h0m2 0h0m3 0h0m5 0h0m6 0h0m4 0h0m5 0h0m5 0h1m7 0h1m-40 1h0m5 0h0m3 0h0m3 0h0m5 0h0m3 0h0m3 0h0m4 0h0m4 0h0m2 0h0m6 0h0m-34 1h4m7 0h2m2 0h0m4 0h0m4 0h0m10 0h0m-26 1h0m6 0h2m5 0h0m7 0h0m2 0h0m8 0h0m4 0h0m3 0h0m-44 1h1m8 0h1m2 0h0m3 0h0m4 0h1m4 0h1m2 0h0m8 0h0m7 0h0m-43 1h0m2 0h0m13 0h0m2 0h0m4 0h0m3 0h0m13 0h0m7 0h0m5 0h0m-52 1h0m2 0h0m2 0h0m6 0h0m9 0h1m4 0h1m5 0h0m20 0h0m-52 1h0m7 0h0m14 0h0m10 0h1m10 0h0m-37 1h0m3 0h0m2 0h0m2 0h0m4 0h0m16 0h0m4 0h0m-33 1h0m3 0h0m4 0h0m13 0h0m17 0h0m12 0h0m7 0h0m-48 1h0m6 0h3m6 0h0m3 0h0m2 0h0m2 0h0m3 0h0m2 0h0m24 0h0m-59 1h0m8 0h0m8 0h2m4 0h2m4 0h0m8 0h0m3 0h0m-43 1h0m11 0h0m2 0h0m4 0h0m3 0h0m15 0h1m13 0h0m2 0h0m-48 1h0m3 0h2m2 0h0m5 0h0m10 0h0m8 0h0m3 0h0m3 0h1m12 0h0m-52 1h0m8 0h0m2 0h0m5 0h0m5 0h1m9 0h0m3 0h1m3 0h0m-38 1h0m2 0h0m8 0h0m16 0h0m4 0h0m5 0h1m14 0h0m-46 1h0m6 0h0m8 0h0m2 0h0m3 0h0m5 0h0m4 0h0m-25 1h0m9 0h0m5 0h0m8 0h0m11 0h0m2 0h0m7 0h0m-42 1h1m2 0h0m4 0h0m4 0h1m6 0h0m8 0h0m-32 1h0m6 0h3m7 0h0m2 0h0m3 0h0m7 0h1m2 0h0m6 0h0m14 0h0m-44 1h0m3 0h0m2 0h0m2 0h0m5 0h0m8 0h2m-15 1h0m3 0h0m4 0h0m3 0h0m4 0h0m4 0h0m-32 1h0m3 0h0m6 0h0m4 0h0m11 0h0m3 0h0m2 0h0m4 0h0m3 0h0m-31 1h0m6 0h0m3 0h0m5 0h0m3 0h0m4 0h0m7 0h0m2 0h0m3 0h0m-19 1h0m6 0h0m4 0h0m3 0h0m31 0h0m-51 1h0m5 0h1m2 0h0m3 0h0m6 0h0m2 0h0m3 0h0m7 0h2m10 0h0m-54 1h0m7 0h0m23 0h0m6 0h0m-36 1h0m6 0h0m2 0h0m2 0h0m7 0h1m2 0h1m5 0h0m2 0h1m3 0h0m11 0h0m7 0h0m-46 1h0m4 0h1m2 0h0m3 0h0m11 0h0m3 0h1m2 0h0m3 0h0m21 0h0m-44 1h1m4 0h0m8 0h0m11 0h0m16 0h0m-50 1h0m7 0h1m2 0h0m3 0h0m3 0h2m5 0h0m5 0h0m3 0h0m2 0h0m26 0h0m-52 1h0m2 0h1m7 0h0m6 0h1m2 0h0m11 0h0m4 0h1m3 0h1m6 0h0m-44 1h3m2 0h0m6 0h0m3 0h1m3 0h1m4 0h0m9 0h0m4 0h0m-33 1h0m3 0h0m2 0h0m3 0h0m4 0h0m10 0h1m2 0h0m-30 1h0m3 0h0m7 0h0m3 0h0m3 0h0m5 0h2m2 0h0m2 0h0m5 0h0m10 0h0m-44 1h0m4 0h1m3 0h0m6 0h0m10 0h0m3 0h0m-33 1h0m9 0h0m2 0h1m4 0h0m3 0h0m12 0h0m3 0h0m9 0h0m-36 1h1m5 0h3m9 0h0m9 0h0m9 0h0m11 0h0m14 0h0m-60 1h0m2 0h1m3 0h0m5 0h0m2 0h0m2 0h0m4 0h0m3 0h0m3 0h0m6 0h0m12 0h0m-42 1h0m3 0h0m5 0h0m3 0h0m2 0h0m3 0h1m6 0h0m10 0h0m-27 1h0m7 0h0m34 0h0m-49 1h0m3 0h0m4 0h1m9 0h0m5 0h1m3 0h0m3 0h0m2 0h0m3 0h1m-39 1h0m7 0h0m2 0h0m14 0h1m4 0h0m21 0h0m-41 1h0m4 0h1m4 0h0m6 0h0m11 0h0m-26 1h1m5 0h0m6 0h1m16 0h0m-30 1h0m5 0h0m3 0h0m3 0h0m6 0h0m11 0h1m-35 1h0m3 0h0m11 0h0m4 0h0m3 0h0m3 0h0m-25 1h0m13 0h1m2 0h0m2 0h0m2 0h0m28 0h0m-45 1h0m2 0h0m10 0h0m2 0h0m5 0h0m15 0h0m13 0h0m-40 1h0m2 0h0m4 0h0m6 0h1m10 0h0m3 0h0m-31 1h0m2 0h1m4 0h2m11 0h0m2 0h0m8 0h0m-28 1h0m3 0h0m2 0h1m22 0h0m2 0h0m-32 1h0m2 0h0m4 0h0m3 0h1m3 0h0m3 0h1m3 0h0m23 0h0m-40 1h0m2 0h0m2 0h0m3 0h1m5 0h0m2 0h0m3 0h0m3 0h0m-25 1h0m9 0h0m3 0h0m2 0h0m3 0h0m5 0h0m3 0h0m5 0h0m-25 1h1m3 0h0m4 0h1m3 0h0m-8 1h1m6 0h0m4 0h0m3 0h0m-20 1h0m5 0h0m2 0h0m9 0h1m-8 1h0m7 0h0m-15 1h0m2 0h0m4 0h0m12 0h0m-19 1h0m8 0h0m-1 4h0" stroke="#808080" stroke-width="1" stroke-linecap="square" fill="none"/>
<path d="M463.5 387.5h0m4 0h0m6 0h0m11 0h0m7 0h0m13 0h0m-52 1h0m26 0h0m18 0h0m3 0h0m-71 1h0m4 0h1m10 0h0m5 0h0m18 0h0m3 0h0m-34 1h0m13 0h0m6 0h1m3 0h0m-28 1h1m3 0h0m5 0h0m3 0h0m3 0h1m3 0h0m14 0h0m-29 1h0m16 0h0m2 0h0m4 0h0m2 0h0m-30 1h0m3 0h0m6 0h0m3 0h0m11 0h0m6 0h0m3 0h0m2 0h5m2 0h1m-43 1h0m2 0h0m3 0h1m19 0h0m2 0h0m4 0h0m6 0h1m5 0h0m3 0h1m-47 1h0m2 0h0m6 0h0m11 0h0m2 0h0m4 0h1m9 0h0m2 0h1m4 0h0m2 0h1m-20 1h3m4 0h0m9 0h0m-41 1h0m14 0h1m3 0h0m6 0h1m6 0h0m5 0h0m2 0h0m4 0h0m3 0h0m5 0h0m-34 1h0m9 0h0m9 0h0m2 0h0m2 0h0m-39 1h0m4 0h0m10 0h0m8 0h0m11 0h0m3 0h0m5 0h0m2 0h1m7 0h1m-52 1h0m5 0h0m19 0h0m5 0h1m4 0h3m15 0h0m2 0h1m-51 1h0m13 0h0m18 0h1m3 0h0m3 0h0m4 0h0m7 0h0m3 0h0m-56 1h0m10 0h0m3 0h1m7 0h0m4 0h0m2 0h0m10 0h0m7 0h1m3 0h0m4 0h0m4 0h0m-57 1h0m3 0h0m4 0h0m7 0h0m2 0h0m18 0h0m2 0h0m5 0h1m4 0h0m3 0h0m4 0h0m5 0h0m-56 1h0m3 0h0m22 0h1m2 0h0m5 0h1m2 0h0m3 0h0m6 0h0m3 0h0m-44 1h0m3 0h0m8 0h1m6 0h1m9 0h3m7 0h0m7 0h0m-52 1h3m23 0h0m4 0h0m2 0h0m4 0h0m4 0h0m11 0h1m2 0h0m4 0h0m-58 1h4m17 0h0m10 0h0m2 0h0m2 0h0m10 0h0m2 0h0m-44 1h1m6 0h0m13 0h0m5 0h0m8 0h0m6 0h2m5 0h0m6 0h0m5 0h2m-61 1h0m6 0h0m9 0h0m10 0h0m4 0h1m5 0h0m4 0h0m3 0h0m12 0h0m4 0h0m-49 1h0m6 0h0m3 0h0m9 0h0m4 0h1m8 0h0m2 0h1m2 0h0m2 0h0m10 0h0m-51 1h0m14 0h0m8 0h0m5 0h0m2 0h0m2 0h1m15 0h1m6 0h1m-57 1h0m11 0h0m5 0h0m6 0h0m2 0h1m2 0h0m2 0h0m3 0h0m4 0h0m3 0h0m3 0h0m4 0h2m-49 1h0m3 0h0m14 0h0m6 0h2m3 0h0m2 0h0m2 0h0m12 0h1m14 0h0m-65 1h0m2 0h3m2 0h0m10 0h0m8 0h1m9 0h1m2 0h0m4 0h0m6 0h0m-48 1h3m11 0h0m11 0h0m9 0h1m7 0h0m6 0h0m2 0h0m2 0h0m2 0h0m4 0h0m6 0h0m-62 1h0m2 0h2m13 0h0m4 0h0m8 0h0m8 0h0m2 0h1m3 0h0m3 0h0m2 0h0m5 0h0m2 0h0m5 0h0m-62 1h0m9 0h0m14 0h0m4 0h0m11 0h0m10 0h0m2 0h0m5 0h0m-51 1h2m13 0h0m4 0h0m17 0h0m3 0h0m3 0h0m5 0h0m10 0h0m-61 1h0m3 0h0m3 0h0m18 0h0m7 0h0m12 0h0m10 0h2m-56 1h1m2 0h0m3 0h0m2 0h0m18 0h1m2 0h0m5 0h1m2 0h0m3 0h0m2 0h0m4 0h0m2 0h0m4 0h1m-49 1h1m4 0h1m16 0h0m10 0h0m2 0h0m7 0h0m8 0h0m11 0h0m-62 1h0m2 0h1m23 0h0m2 0h0m2 0h0m6 0h0m5 0h0m4 0h0m14 0h0m3 0h1m-66 1h0m6 0h0m16 0h0m6 0h0m8 0h0m2 0h0m4 0h1m9 0h0m4 0h0m10 0h0m-65 1h0m2 0h2m5 0h0m15 0h0m13 0h0m3 0h0m3 0h0m2 0h0m6 0h0m2 0h1m4 0h0m7 0h0m-65 1h0m6 0h0m28 0h0m2 0h0m7 0h1m3 0h0m4 0h0m2 0h0m11 0h0m-64 1h0m8 0h1m7 0h0m15 0h0m4 0h0m4 0h0m12 0h0m10 0h2m-64 1h2m2 0h0m2 0h0m2 0h0m3 0h0m9 0h0m5 0h0m5 0h0m3 0h0m6 0h0m6 0h0m7 0h0m3 0h0m7 0h1m3 0h0m-67 1h1m2 0h2m18 0h0m2 0h0m2 0h0m2 0h0m11 0h0m4 0h2m4 0h0m5 0h0m2 0h0m10 0h1m-67 1h3m3 0h1m25 0h0m7 0h1m10 0h0m2 0h0m2 0h0m3 0h1m7 0h0m2 0h0m-68 1h0m3 0h0m2 0h1m2 0h0m5 0h0m5 0h0m3 0h0m3 0h0m2 0h0m10 0h0m10 0h2m7 0h0m7 0h0m5 0h0m2 0h0m-68 1h0m4 0h0m2 0h0m11 0h0m9 0h0m6 0h0m7 0h1m9 0h0m15 0h0m3 0h0m-67 1h1m2 0h0m3 0h0m2 0h0m9 0h0m10 0h1m10 0h0m5 0h0m9 0h0m5 0h0m-58 1h2m2 0h0m2 0h1m15 0h0m2 0h0m8 0h0m12 0h1m5 0h0m4 0h0m15 0h0m-68 1h0m5 0h0m2 0h0m4 0h0m40 0h1m13 0h0m-66 1h0m4 0h0m2 0h2m6 0h0m5 0h0m16 0h1m5 0h0m6 0h0m3 0h0m3 0h0m5 0h0m10 0h0m-68 1h1m2 0h1m3 0h0m13 0h1m18 0h0m9 0h1m4 0h0m4 0h2m5 0h0m2 0h0m-66 1h0m4 0h1m3 0h0m2 0h0m3 0h0m5 0h0m10 0h0m4 0h0m2 0h0m9 0h1m4 0h0m4 0h0m14 0h0m-65 1h1m4 0h1m4 0h0m2 0h2m14 0h0m13 0h1m3 0h0m21 0h0m3 0h0m-67 1h2m5 0h0m28 0h0m5 0h0m5 0h0m2 0h0m2 0h0m2 0h0m7 0h0m-61 1h0m2 0h0m2 0h0m3 0h0m9 0h0m22 0h2m2 0h0m4 0h0m6 0h1m3 0h0m7 0h0m4 0h0m-67 1h3m2 0h0m18 0h0m8 0h1m5 0h1m3 0h0m7 0h0m3 0h1m5 0h0m2 0h0m5 0h0m4 0h0m-68 1h2m2 0h0m2 0h0m2 0h0m40 0h1m5 0h2m10 0h0m-61 1h1m29 0h0m7 0h0m3 0h0m2 0h0m2 0h1m9 0h0m-57 1h3m3 0h0m2 0h0m2 0h0m30 0h0m6 0h0m4 0h0m7 0h0m3 0h0m-61 1h0m2 0h0m6 0h0m4 0h1m4 0h0m27 0h0m7 0h0m9 0h0m-56 1h1m2 0h1m6 0h0m27 0h0m5 0h0m2 0h1m6 0h0m2 0h0m6 0h0m-61 1h3m19 0h0m14 0h1m10 0h0m4 0h0m4 0h0m4 0h0m-59 1h1m5 0h0m19 0h0m3 0h0m3 0h0m6 0h0m5 0h1m5 0h0m3 0h0m5 0h0m2 0h0m-57 1h1m2 0h1m5 0h1m9 0h1m2 0h0m16 0h0m3 0h2m2 0h0m4 0h1m7 0h0m-58 1h0m3 0h0m4 0h0m24 0h0m6 0h0m8 0h0m-42 1h1m2 0h0m2 0h3m11 0h0m13 0h0m4 0h0m7 0h0m4 0h0m-43 1h0m3 0h0m11 0h0m18 0h2m7 0h0m5 0h0m-51 1h1m5 0h0m10 0h0m15 0h0m3 0h0m6 0h1m6 0h0m4 0h0m-51 1h1m8 0h0m16 0h0m4 0h0m17 0h0m7 0h0m-49 1h1m2 0h0m9 0h0m8 0h0m6 0h0m14 0h0m5 0h0m-48 1h2m2 0h0m3 0h1m10 0h0m4 0h0m3 0h0m6 0h1m4 0h0m7 0h0m-43 1h1m2 0h0m4 0h0m5 0h0m5 0h0m13 0h0m4 0h0m14 0h0m-47 1h0m4 0h0m2 0h0m6 0h0m2 0h0m3 0h0m7 0h0m4 0h0m4 0h1m8 0h0m-40 1h0m2 0h2m6 0h0m8 0h0m4 0h1m2 0h0m2 0h0m3 0h0m2 0h0m12 0h0m-44 1h1m3 0h1m12 0h0m5 0h0m4 0h0m3 0h1m5 0h0m-35 1h0m7 0h0m5 0h2m4 0h0m4 0h1m4 0h0m4 0h1m-28 1h1m2 0h2m4 0h0m3 0h1m4 0h0m4 0h1m3 0h0m-28 1h0m2 0h0m4 0h0m2 0h0m3 0h1m4 0h1m11 0h0m-25 1h0m2 0h1m2 0h1m2 0h0m3 0h1m2 0h1m3 0h0m13 0h0m-30 1h0m4 0h0m3 0h0m2 0h5m3 0h0m3 0h0m-22 1h0m3 0h2m5 0h1m2 0h2m7 0h0m2 0h0m-25 1h0m2 0h3m2 0h0m2 0h2m3 0h0m2 0h0m5 0h0m3 0h0m-23 1h0m2 0h1m2 0h0m4 0h1m2 0h0m3 0h0m-14 1h0m2 0h1m2 0h2m2 0h1m3 0h0" stroke="#b2b2b2" stroke-width="1" stroke-linecap="square" fill="none"/>
<path d="M495.5 387.5h0m3 0h0m5 0h0m2 0h0m-59 1h0m43 0h0m12 0h0m7 0h0m-56 1h0m3 0h0m36 0h2m6 0h0m2 0h1m2 0h2m2 0h0m2 0h0m-20 1h0m2 0h0m2 0h0m2 0h0m8 0h0m3 0h1m2 0h0m-20 1h2m2 0h0m4 0h0m5 0h0m7 0h0m2 0h0m-23 1h0m3 0h0m8 0h0m3 0h0m2 0h0m2 0h1m-19 1h0m2 0h1m17 0h0m3 0h0m-64 1h0m18 0h0m5 0h0m5 0h0m13 0h0m3 0h1m6 0h0m3 0h0m2 0h2m5 0h0m-43 1h0m5 0h2m2 0h0m13 0h1m2 0h2m11 0h0m2 0h0m2 0h0m2 0h0m-70 1h0m23 0h0m7 0h0m3 0h0m15 0h0m2 0h0m5 0h1m3 0h3m7 0h0m-33 1h0m17 0h0m12 0h0m2 0h0m-60 1h0m29 0h0m16 0h0m5 0h0m4 0h1m6 0h1m-64 1h0m17 0h0m15 0h0m10 0h2m12 0h0m3 0h2m3 0h1m-41 1h0m8 0h0m10 0h0m7 0h0m3 0h0m4 0h0m5 0h0m-35 1h0m5 0h0m3 0h0m8 0h0m2 0h0m2 0h1m5 0h0m6 0h0m3 0h0m2 0h0m-48 1h0m5 0h0m2 0h0m25 0h1m8 0h3m3 0h0m3 0h0m-49 1h0m2 0h0m5 0h0m2 0h0m4 0h0m4 0h0m18 0h0m6 0h0m-34 1h1m8 0h0m2 0h0m10 0h1m6 0h0m2 0h0m12 0h0m-47 1h1m5 0h1m3 0h0m3 0h0m3 0h0m9 0h0m3 0h0m2 0h3m6 0h0m2 0h0m2 0h0m3 0h0m-46 1h0m2 0h0m2 0h0m2 0h0m2 0h0m4 0h0m12 0h0m3 0h1m2 0h1m4 0h1m3 0h0m2 0h1m2 0h0m2 0h1m-83 1h0m35 0h0m13 0h0m2 0h1m3 0h2m26 0h1m-51 1h0m9 0h0m20 0h0m6 0h0m3 0h0m3 0h0m2 0h0m2 0h2m4 0h0m-53 1h0m4 0h0m6 0h2m13 0h2m19 0h2m2 0h1m-44 1h0m3 0h0m10 0h0m5 0h0m2 0h0m11 0h0m5 0h0m3 0h0m3 0h0m-31 1h0m7 0h0m3 0h2m8 0h0m4 0h0m3 0h0m5 0h0m2 0h1m-34 1h0m3 0h0m2 0h0m4 0h0m10 0h1m2 0h0m4 0h0m2 0h0m5 0h0m-43 1h2m4 0h0m7 0h0m7 0h0m16 0h1m2 0h0m-40 1h0m6 0h2m4 0h1m6 0h0m4 0h0m8 0h1m-38 1h0m6 0h0m2 0h0m12 0h0m2 0h0m4 0h1m4 0h0m8 0h0m4 0h0m-39 1h1m3 0h0m9 0h0m8 0h2m3 0h0m12 0h1m3 0h0m-84 1h0m46 0h0m4 0h0m3 0h0m2 0h0m9 0h1m-24 1h0m6 0h0m4 0h3m7 0h0m4 0h0m7 0h0m8 0h0m4 0h0m-37 1h0m4 0h0m4 0h0m4 0h0m5 0h1m14 0h0m9 0h0m-65 1h0m14 0h0m2 0h0m4 0h0m20 0h2m7 0h0m11 0h0m6 0h0m-69 1h0m24 0h0m4 0h0m2 0h0m3 0h1m3 0h0m11 0h0m-30 1h0m2 0h0m6 0h0m6 0h0m2 0h1m2 0h0m3 0h0m-28 1h0m2 0h0m7 0h1m6 0h0m3 0h1m2 0h0m3 0h0m2 0h2m-57 1h0m38 0h0m11 0h0m5 0h0m2 0h0m4 0h0m-28 1h0m8 0h0m4 0h0m4 0h0m3 0h0m3 0h1m2 0h0m23 0h0m-45 1h1m5 0h0m3 0h0m2 0h0m13 0h2m17 0h0m-44 1h0m2 0h0m11 0h0m2 0h1m7 0h0m4 0h0m-8 1h0m8 0h0m-34 1h1m3 0h0m11 0h0m12 0h0m5 0h0m2 0h0m-28 1h1m15 0h0m2 0h0m4 0h0m5 0h0m-22 1h0m11 0h0m4 0h2m6 0h0m-35 1h0m6 0h0m10 0h0m6 0h0m6 0h3m4 0h0m-26 1h0m14 0h2m7 0h2m-29 1h0m9 0h1m5 0h0m13 0h0m-56 1h0m19 0h0m12 0h0m4 0h0m11 0h0m3 0h0m3 0h0m3 0h0m4 0h0m-25 1h0m24 0h0m-24 1h0m2 0h0m4 0h0m10 0h1m3 0h0m2 0h0m-14 1h0m3 0h1m11 0h0m-22 1h0m5 0h0m4 0h0m2 0h2m7 0h0m-23 1h0m12 0h0m5 0h0m9 0h0m-20 1h0m5 0h0m8 0h1m3 0h1m-24 1h0m8 0h0m7 0h1m-11 1h0m3 0h0m2 0h0m4 0h0m4 0h1m-15 1h0m2 0h0m2 0h0m10 0h0m5 0h0m-60 1h0m35 0h0m6 0h0m6 0h0m5 0h1m7 0h0m-44 1h0m26 0h0m6 0h0m-7 1h0m4 0h0m5 0h0m8 0h0m-26 1h0m15 0h0m4 0h1m2 0h0m3 0h0m-54 1h0m41 0h0m6 0h1m3 0h0m-40 1h0m16 0h0m8 0h0m9 0h0m2 0h0m-11 1h1m2 0h0m9 0h1m-28 1h0m19 0h0m-6 1h0m5 0h0m6 0h0m-16 1h0m17 0h0m-39 1h0m15 1h0m9 0h0m15 0h0m-10 1h0m2 0h1m-15 1h0m14 0h0m3 0h1m2 0h0m-16 1h1m4 0h0m3 0h0m3 0h0m4 0h0m-19 1h0m7 0h0m3 0h0m-8 1h0m8 0h0m2 0h0m-22 1h0m14 0h0m3 0h0m2 0h0m2 0h0m3 0h0m-15 1h0m4 0h1m3 0h0m2 0h0m2 0h0m2 0h0m-17 1h0m4 0h1m2 0h0m2 0h1m3 0h0m-12 1h0m6 0h0m5 0h0m-30 1h0m17 0h0m3 0h1m-6 1h0m4 0h0m-3 2h0" stroke="#e6e6e6" stroke-width="1" stroke-linecap="square" fill="none"/>
<path d="M498.5 390.5h0m-5 3h0m17 0h0m-11 18h0m-6 9h0m4 1h0" stroke="#2e2e2e" stroke-width="1" stroke-linecap="square" fill="none"/>
<path d="M497.5 398.5h0m-1 5h0m-7 19h0" stroke="#565656" stroke-width="1" stroke-linecap="square" fill="none"/>
<path d="M509.5 401.5h0m-13 6h0" stroke="#424242" stroke-width="1" stroke-linecap="square" fill="none"/>
<path d="M489.5 404.5h0m17 15h0m-4 34h0" stroke="#1a1a1a" stroke-width="1" stroke-linecap="square" fill="none"/>
<polygon points="418,450 420.6,445.3 430.4,470.3 418,470.3" fill="#000"/>
<polygon points="428.5,387.2 418.9,430.0 418.6,441.0 421.0,447.0 430.4,469.8 447.0,469.6 463.0,465.0 474.5,457.8 489.9,441.5 489.0,412.0 479.3,395.1 463.0,391.3 450.0,388.5" fill="none" stroke="#222" stroke-width="1.0"/>
<rect x="416.6" y="386.9" width="96.7" height="84.3" fill="none" stroke="#111" stroke-width="1"/>
<rect x="271.2" y="525.5" width="120.1" height="120" fill="none" stroke="#555" stroke-width="1"/>
<path d="M292.9 620.5H295.4M292.9 617.9H295.4M292.9 615.9H295.4M292.9 614.3H295.4M292.9 612.9H295.4M292.9 611.7H295.4M292.9 610.6H295.4M291.4 609.7H295.4M292.9 603.5H295.4M292.9 599.8H295.4M292.9 597.2H295.4M292.9 595.2H295.4M292.9 593.6H295.4M292.9 592.2H295.4M292.9 591.0H295.4M292.9 589.9H295.4M291.4 589.0H295.4M292.9 582.8H295.4M292.9 579.1H295.4M292.9 576.5H295.4M292.9 574.5H295.4M292.9 572.9H295.4M292.9 571.5H295.4M292.9 570.3H295.4M292.9 569.2H295.4M291.4 568.3H295.4M292.9 562.1H295.4M292.9 558.4H295.4M292.9 555.8H295.4M292.9 553.8H295.4M292.9 552.2H295.4M292.9 550.8H295.4M292.9 549.6H295.4M292.9 548.5H295.4M291.4 547.6H295.4M292.9 541.4H295.4M297.8 621.2V624.7M300.0 621.2V624.7M301.9 621.2V624.7M303.4 621.2V624.7M304.8 621.2V624.7M305.9 621.2V624.7M307.0 621.2V626.2M314.0 621.2V624.7M318.0 621.2V624.7M320.9 621.2V624.7M323.1 621.2V624.7M325.0 621.2V624.7M326.5 621.2V624.7M327.9 621.2V624.7M329.0 621.2V624.7M330.1 621.2V626.2M337.1 621.2V624.7M341.1 621.2V624.7M344.0 621.2V624.7M346.2 621.2V624.7M348.1 621.2V624.7M349.6 621.2V624.7M351.0 621.2V624.7M352.1 621.2V624.7M353.2 621.2V626.2M360.2 621.2V624.7M364.2 621.2V624.7M367.1 621.2V624.7M369.3 621.2V624.7M371.2 621.2V624.7M372.7 621.2V624.7M374.1 621.2V624.7M375.2 621.2V624.7M376.3 621.2V626.2M383.3 621.2V624.7" stroke="#222" stroke-width="0.8" fill="none"/>
<text x="285.8" y="611.5" font-size="5.2" fill="#222" transform="rotate(-90 288.4 609.7)">10<tspan font-size="4" dy="-2.2">2</tspan></text>
<text x="304.1" y="632.6" font-size="5.2" fill="#222">10<tspan font-size="4" dy="-2.2">2</tspan></text>
<text x="285.8" y="590.8" font-size="5.2" fill="#222" transform="rotate(-90 288.4 589.0)">10<tspan font-size="4" dy="-2.2">3</tspan></text>
<text x="327.2" y="632.6" font-size="5.2" fill="#222">10<tspan font-size="4" dy="-2.2">3</tspan></text>
<text x="285.8" y="570.1" font-size="5.2" fill="#222" transform="rotate(-90 288.4 568.3)">10<tspan font-size="4" dy="-2.2">4</tspan></text>
<text x="350.3" y="632.6" font-size="5.2" fill="#222">10<tspan font-size="4" dy="-2.2">4</tspan></text>
<text x="285.8" y="549.4" font-size="5.2" fill="#222" transform="rotate(-90 288.4 547.6)">10<tspan font-size="4" dy="-2.2">5</tspan></text>
<text x="373.4" y="632.6" font-size="5.2" fill="#222">10<tspan font-size="4" dy="-2.2">5</tspan></text>
<text x="340.9" y="641.3" font-size="10.3" text-anchor="middle" fill="#111">c-kit</text>
<text x="281.1" y="579.2" font-size="10.3" text-anchor="middle" fill="#111" transform="rotate(-90 281.1 579.2)">CD71</text>
<path d="M306.5 568.5h9m-12 1h2m10 0h4m-21 1h0m2 0h2m17 0h3m-26 1h1m26 0h1m-23 2h0m12 27h0m-17 13h0m8 0h0m3 0h0m-11 1h0m4 0h0m6 0h0m-9 1h0m2 0h0m2 0h0m-1 1h0m2 1h0m2 0h0m4 0h0m-11 1h1m3 0h0m3 0h2m3 0h1m-8 1h0m2 0h0m2 0h0m4 0h1m-15 1h1m8 0h1" stroke="#e6e6e6" stroke-width="1" stroke-linecap="square" fill="none"/>
<path d="M306.5 569.5h8m-11 1h4m4 0h0m2 0h1m2 0h2m-20 1h3m7 0h0m8 0h6m-25 1h1m4 0h0m3 0h0m17 0h0m2 0h0m-18 1h0m3 0h1m4 0h0m8 0h1m-27 1h0m3 0h0m3 0h0m13 0h1m5 0h0m-25 1h0m3 0h0m2 0h1m2 0h1m2 0h0m11 0h0m6 0h0m-18 1h0m7 0h0m-15 1h0m15 0h1m4 0h0m2 0h0m-24 1h0m3 0h0m6 0h0m15 0h0m-12 1h0m-5 1h0m8 0h0m6 0h0m-21 1h0m8 0h0m19 0h0m-24 1h0m7 0h0m4 0h1m7 0h0m5 0h0m-24 1h0m11 0h0m-11 1h0m8 0h0m3 0h0m2 0h0m2 0h1m5 0h0m-15 1h0m4 0h0m7 0h0m-15 1h0m10 0h0m5 0h2m5 0h1m-6 1h0m2 0h0m-20 1h0m2 0h0m6 0h0m13 0h0m-11 1h0m7 0h0m7 0h0m-18 1h0m-6 1h0m6 0h0m8 0h0m2 0h0m-13 1h0m-7 1h1m7 0h0m5 0h0m5 0h0m5 0h1m4 0h0m-28 1h0m14 0h0m2 0h0m4 0h0m-19 1h0m7 0h0m2 0h0m2 0h0m7 0h0m-14 1h0m7 0h0m2 0h0m7 0h0m5 0h0m-25 1h0m11 0h0m3 0h0m2 0h1m5 0h0m-12 1h0m2 0h1m4 0h0m2 0h0m-13 1h0m2 0h0m4 0h0m6 0h0m4 0h0m-21 1h0m25 0h0m-18 1h0m2 0h0m2 0h0m4 0h0m3 0h0m5 0h0m-21 1h1m5 0h0m3 0h0m8 0h0m-12 1h0m12 0h0m6 0h0m-27 1h0m14 0h0m6 0h0m8 0h0m-25 1h0m11 0h0m4 0h0m9 0h0m-27 1h0m8 0h0m2 0h0m3 0h1m7 0h0m-20 1h2m2 0h1m2 0h1m13 0h0m6 0h0m-24 1h0m2 0h3m2 0h1m4 0h1m3 0h1m2 0h0m4 0h0m-27 1h0m3 0h1m3 0h0m3 0h0m7 0h0m10 0h0m-27 1h1m3 0h1m2 0h3m2 0h1m4 0h0m2 0h0m3 0h0m-22 1h1m3 0h2m3 0h1m4 0h0m4 0h0m2 0h1m6 0h0m-27 1h0m3 0h3m3 0h0m2 0h4m6 0h0m5 0h0m-24 1h5m2 0h1m2 0h1m2 0h0m8 0h2m-23 1h1m2 0h4m2 0h1m2 0h2m5 0h0m5 0h0m2 0h0m-28 1h0m2 0h0m2 0h0m2 0h11m2 0h0m9 0h0m-28 1h3m2 0h7m2 0h0m5 0h3m4 0h0m-26 1h5m2 0h0m2 0h2m2 0h1m3 0h0m6 0h0m2 0h0m2 0h0m-27 1h0m3 0h1m2 0h1m4 0h1m3 0h0m2 0h3m2 0h1m-23 1h5m2 0h0m2 0h0m4 0h0m7 0h0m2 0h0m-20 1h0m2 0h4m4 0h0m2 0h2m2 0h2m4 0h0" stroke="#cccccc" stroke-width="1" stroke-linecap="square" fill="none"/>
<path d="M308.5 570.5h2m2 0h0m3 0h0m-13 1h3m2 0h0m2 0h0m2 0h4m-19 1h0m3 0h2m3 0h0m2 0h1m2 0h1m2 0h1m2 0h6m2 0h0m-27 1h4m2 0h0m2 0h1m2 0h1m3 0h1m3 0h0m2 0h4m3 0h0m-27 1h1m2 0h1m2 0h0m2 0h7m2 0h0m3 0h1m4 0h2m-27 1h0m3 0h0m3 0h0m5 0h9m2 0h4m-27 1h0m3 0h1m2 0h3m2 0h5m2 0h3m2 0h1m2 0h2m-28 1h1m2 0h3m2 0h0m2 0h6m4 0h1m2 0h0m2 0h3m-27 1h1m2 0h2m2 0h0m2 0h3m2 0h5m2 0h1m2 0h3m-28 1h8m3 0h0m2 0h1m2 0h0m4 0h4m2 0h2m-28 1h6m2 0h6m3 0h1m2 0h0m2 0h6m-27 1h1m2 0h3m2 0h11m2 0h4m2 0h0m-28 1h2m3 0h4m2 0h0m2 0h0m3 0h5m2 0h3m2 0h0m-27 1h1m3 0h5m2 0h1m2 0h5m2 0h6m-28 1h1m4 0h2m2 0h1m2 0h1m2 0h0m2 0h0m3 0h2m3 0h3m-28 1h5m2 0h1m2 0h2m2 0h5m2 0h4m-24 1h1m2 0h0m2 0h8m3 0h2m4 0h3m-26 1h0m2 0h1m2 0h1m2 0h8m2 0h3m2 0h0m3 0h2m-28 1h3m2 0h0m4 0h2m2 0h9m2 0h0m3 0h1m-28 1h0m2 0h9m2 0h0m2 0h1m2 0h2m2 0h0m2 0h3m-24 1h0m2 0h4m2 0h0m2 0h3m2 0h0m2 0h2m2 0h2m2 0h0m-28 1h3m3 0h3m2 0h1m2 0h3m4 0h7m-28 1h2m2 0h0m2 0h0m2 0h8m2 0h6m2 0h2m-26 1h0m2 0h2m3 0h3m4 0h1m2 0h3m3 0h2m-26 1h3m2 0h6m3 0h0m3 0h1m2 0h0m2 0h5m-28 1h0m2 0h1m2 0h2m2 0h0m2 0h0m2 0h5m2 0h1m2 0h3m2 0h0m-28 1h3m3 0h5m5 0h2m5 0h2m2 0h1m-28 1h0m2 0h0m3 0h2m2 0h2m2 0h1m2 0h0m3 0h3m4 0h1m-27 1h6m2 0h2m2 0h0m3 0h0m2 0h0m2 0h0m2 0h5m2 0h0m-28 1h4m4 0h0m3 0h1m2 0h1m3 0h0m2 0h2m2 0h4m-28 1h0m3 0h0m2 0h4m2 0h5m2 0h8m2 0h0m-28 1h0m3 0h5m2 0h0m2 0h0m2 0h2m2 0h1m2 0h3m2 0h2m-28 1h3m3 0h0m2 0h1m2 0h1m2 0h0m2 0h4m2 0h5m-27 1h2m2 0h1m2 0h1m2 0h10m2 0h4m2 0h0m-27 1h12m2 0h1m2 0h1m2 0h1m2 0h1m-25 1h2m2 0h9m2 0h2m2 0h7m2 0h0m-27 1h6m2 0h0m2 0h1m4 0h4m2 0h2m2 0h2m-28 1h0m4 0h0m3 0h0m4 0h1m3 0h5m4 0h1m2 0h0m-27 1h3m2 0h0m5 0h0m3 0h0m2 0h0m3 0h1m3 0h0m2 0h2m2 0h0m-27 1h1m3 0h1m2 0h1m2 0h5m2 0h2m2 0h0m2 0h2m2 0h0m-26 1h1m3 0h0m5 0h0m3 0h2m2 0h0m2 0h1m2 0h5m-26 1h1m4 0h1m3 0h2m2 0h2m2 0h0m3 0h0m3 0h1m2 0h0m-27 1h1m5 0h1m2 0h0m6 0h3m3 0h3m2 0h1m-27 1h0m13 0h0m2 0h6m4 0h2m-27 1h0m16 0h3m2 0h3m2 0h0m-9 1h0m2 0h1m2 0h4m-14 1h0m2 0h3m5 0h2m2 0h0m-12 1h1m2 0h4m2 0h0m2 0h0m2 0h0m-12 1h0m5 0h0m3 0h1m2 0h1m-17 1h1m4 0h3m2 0h0m2 0h5m-17 1h0m2 0h0m4 0h0m4 0h2m2 0h1" stroke="#b2b2b2" stroke-width="1" stroke-linecap="square" fill="none"/>
<path d="M306.5 571.5h0m4 0h0m-7 1h0m5 0h0m3 0h0m3 0h0m-11 1h0m10 0h0m3 0h0m-12 1h0m9 0h0m6 0h1m-22 1h0m8 0h0m-9 1h1m3 0h0m17 0h0m3 0h0m-18 1h0m2 0h0m10 0h0m-12 1h0m7 0h0m7 0h0m-12 1h1m5 0h0m2 0h2m6 0h0m-9 1h0m3 0h0m-16 1h0m18 0h0m-17 1h0m8 0h0m-12 1h0m4 0h0m7 0h0m10 0h0m-19 1h0m2 0h0m4 0h0m15 0h0m-17 1h0m20 0h2m-28 1h0m3 0h0m13 0h0m-15 1h0m3 0h0m3 0h0m10 0h0m8 0h0m-18 1h1m15 0h0m3 0h0m-25 1h0m11 0h0m5 0h0m6 0h0m-23 1h2m2 0h0m8 0h0m5 0h0m2 0h0m4 0h0m4 0h0m-22 1h0m8 0h0m6 0h0m-16 1h0m2 0h0m12 0h0m8 0h0m-22 1h0m4 0h0m7 0h1m-10 1h0m8 0h0m4 0h0m5 0h0m-18 1h0m23 0h0m-23 1h0m9 0h0m2 0h0m4 0h1m2 0h0m-19 1h1m4 0h0m16 0h1m3 0h0m-21 1h0m9 0h0m11 0h0m-22 1h1m4 0h0m6 0h1m-16 1h0m3 0h0m6 0h0m-9 1h1m5 1h0m8 0h0m13 0h0m-25 1h0m3 0h0m11 1h0m6 0h0m3 0h1m-12 2h0m10 0h0m-15 1h0m3 0h1m7 0h0m2 0h0m3 0h0m-12 1h0m7 1h0m2 0h0m0 2h1m-4 1h0m-7 2h0m9 1h0m6 1h0m-2 2h0m1 2h1" stroke="#999999" stroke-width="1" stroke-linecap="square" fill="none"/>
<path d="M332.5 571.5h0m-6 8h0m7 0h0m-6 1h0m2 0h0m-3 1h0m16 0h0m-16 3h0m5 0h0m-1 2h0m7 2h0m-12 2h0m2 0h0m7 0h0m3 0h0m-12 1h1m3 0h0m3 0h0m-7 1h0m2 0h1m1 1h0m7 0h0m-7 1h0m-4 1h0m14 0h0m8 0h0m-19 1h0m3 0h1m12 0h0m-18 1h0m3 0h0m17 0h0m15 1h0m-35 1h0m4 0h0m-3 1h0m0 2h0m13 1h0m-6 1h0m-8 2h0m-1 1h0m14 0h0m-14 1h0m5 0h0m1 2h0m3 0h0m13 6h0m-11 1h0m-11 2h0" stroke="#424242" stroke-width="1" stroke-linecap="square" fill="none"/>
<path d="M332.5 574.5h0m2 3h0m13 0h0m-9 2h0m-11 3h1m3 0h0m-4 1h1m2 1h0m-1 1h1m-4 1h0m3 0h0m-2 1h0m1 2h0m14 0h0m-11 1h1m-4 1h0m-2 1h0m3 0h0m6 0h0m-10 1h1m6 0h0m-7 1h0m3 0h0m2 0h1m2 0h0m-5 1h0m10 0h0m-12 1h0m7 0h0m-8 1h0m5 0h0m-5 1h0m2 0h1m0 1h0m15 0h0m-11 1h0m4 0h0m-5 2h0m-6 1h0m3 0h0m-1 1h2m0 1h0m3 2h0m0 1h0m-5 1h0m1 9h0" stroke="#565656" stroke-width="1" stroke-linecap="square" fill="none"/>
<path d="M345.5 576.5h0m-16 1h1m6 2h0m-10 1h0m4 0h0m-3 1h0m-1 2h0m14 1h0m8 0h0m4 0h0m-15 2h0m-7 1h0m-5 1h1m2 0h0m2 0h0m2 0h0m-4 2h0m5 0h0m7 0h0m-13 1h0m3 0h0m3 0h0m2 0h0m-4 1h1m12 0h0m-16 1h0m-2 2h0m3 0h1m-5 1h0m2 1h1m2 1h0m-5 1h0m2 0h0m2 0h0m-4 1h0m3 1h0m4 0h0m-1 2h0m-5 2h0m8 0h0m10 2h0m5 0h0m-22 1h0m1 1h0m3 0h0m0 4h1" stroke="#1a1a1a" stroke-width="1" stroke-linecap="square" fill="none"/>
<path d="M337.5 579.5h0m-9 1h0m8 0h0m-11 3h0m3 1h0m0 2h0m8 0h0m-8 1h0m5 0h0m-6 2h0m-1 1h0m3 0h0m5 2h0m4 0h0m-11 1h0m4 0h0m9 0h0m-14 1h1m11 0h0m5 0h0m-16 1h0m2 1h1m10 1h0m-14 1h0m3 0h0m4 1h0m4 0h0m-6 1h0m-6 1h0m2 0h0m13 0h0m-14 1h0m2 0h0m24 0h0m-13 2h0m-14 1h0m3 0h0m7 2h0m4 2h0m3 1h0m-16 1h0m0 2h0m3 0h0" stroke="#2e2e2e" stroke-width="1" stroke-linecap="square" fill="none"/>
<path d="M318.5 595.5h0" stroke="#808080" stroke-width="1" stroke-linecap="square" fill="none"/>
<line x1="325.2" y1="537.9" x2="325.2" y2="621.2" stroke="#333" stroke-width="1"/>
<line x1="295.4" y1="589.4" x2="386.2" y2="589.4" stroke="#333" stroke-width="1"/>
<rect x="295.4" y="537.9" width="90.80000000000001" height="83.30000000000007" fill="none" stroke="#111" stroke-width="1"/>
<text x="310.4" y="577.4" font-size="6.8" text-anchor="middle" fill="#222">Q1</text>
<text x="340.7" y="577.4" font-size="6.8" text-anchor="middle" fill="#222">Q2</text>
<text x="310.4" y="607.6" font-size="6.8" text-anchor="middle" fill="#222">Q3</text>
<text x="340.7" y="607.6" font-size="6.8" text-anchor="middle" fill="#222">Q4</text>
<rect x="396.7" y="525.5" width="121.2" height="120" fill="none" stroke="#555" stroke-width="1"/>
<path d="M417.9 620.5H420.4M417.9 617.9H420.4M417.9 615.9H420.4M417.9 614.3H420.4M417.9 612.9H420.4M417.9 611.7H420.4M417.9 610.6H420.4M416.4 609.7H420.4M417.9 603.5H420.4M417.9 599.8H420.4M417.9 597.2H420.4M417.9 595.2H420.4M417.9 593.6H420.4M417.9 592.2H420.4M417.9 591.0H420.4M417.9 589.9H420.4M416.4 589.0H420.4M417.9 582.8H420.4M417.9 579.1H420.4M417.9 576.5H420.4M417.9 574.5H420.4M417.9 572.9H420.4M417.9 571.5H420.4M417.9 570.3H420.4M417.9 569.2H420.4M416.4 568.3H420.4M417.9 562.1H420.4M417.9 558.4H420.4M417.9 555.8H420.4M417.9 553.8H420.4M417.9 552.2H420.4M417.9 550.8H420.4M417.9 549.6H420.4M417.9 548.5H420.4M416.4 547.6H420.4M417.9 541.4H420.4M422.8 621.5V625.0M425.0 621.5V625.0M426.9 621.5V625.0M428.4 621.5V625.0M429.8 621.5V625.0M430.9 621.5V625.0M432.0 621.5V626.5M439.0 621.5V625.0M443.0 621.5V625.0M445.9 621.5V625.0M448.1 621.5V625.0M450.0 621.5V625.0M451.5 621.5V625.0M452.9 621.5V625.0M454.0 621.5V625.0M455.1 621.5V626.5M462.1 621.5V625.0M466.1 621.5V625.0M469.0 621.5V625.0M471.2 621.5V625.0M473.1 621.5V625.0M474.6 621.5V625.0M476.0 621.5V625.0M477.1 621.5V625.0M478.2 621.5V626.5M485.2 621.5V625.0M489.2 621.5V625.0M492.1 621.5V625.0M494.3 621.5V625.0M496.2 621.5V625.0M497.7 621.5V625.0M499.1 621.5V625.0M500.2 621.5V625.0M501.3 621.5V626.5M508.3 621.5V625.0" stroke="#222" stroke-width="0.8" fill="none"/>
<text x="410.8" y="611.5" font-size="5.2" fill="#222" transform="rotate(-90 413.4 609.7)">10<tspan font-size="4" dy="-2.2">2</tspan></text>
<text x="429.1" y="632.6" font-size="5.2" fill="#222">10<tspan font-size="4" dy="-2.2">2</tspan></text>
<text x="410.8" y="590.8" font-size="5.2" fill="#222" transform="rotate(-90 413.4 589.0)">10<tspan font-size="4" dy="-2.2">3</tspan></text>
<text x="452.2" y="632.6" font-size="5.2" fill="#222">10<tspan font-size="4" dy="-2.2">3</tspan></text>
<text x="410.8" y="570.1" font-size="5.2" fill="#222" transform="rotate(-90 413.4 568.3)">10<tspan font-size="4" dy="-2.2">4</tspan></text>
<text x="475.3" y="632.6" font-size="5.2" fill="#222">10<tspan font-size="4" dy="-2.2">4</tspan></text>
<text x="410.8" y="549.4" font-size="5.2" fill="#222" transform="rotate(-90 413.4 547.6)">10<tspan font-size="4" dy="-2.2">5</tspan></text>
<text x="498.4" y="632.6" font-size="5.2" fill="#222">10<tspan font-size="4" dy="-2.2">5</tspan></text>
<text x="465.9" y="641.3" font-size="10.3" text-anchor="middle" fill="#111">c-kit</text>
<text x="406.1" y="579.2" font-size="10.3" text-anchor="middle" fill="#111" transform="rotate(-90 406.1 579.2)">CD71</text>
<path d="M458.5 564.5h0m11 3h0m-8 2h0m-11 1h0m4 0h0m-1 2h0m5 0h0m-8 1h0m4 0h0m7 0h0m11 0h1m-10 1h1m15 0h0m-25 1h0m4 0h0m3 0h0m3 0h0m3 0h0m2 0h0m9 0h0m14 0h0m-41 1h0m9 0h0m5 0h0m-15 1h0m9 0h1m4 0h0m2 0h0m2 0h0m-13 1h0m11 0h0m-7 1h0m5 0h1m8 0h1m-19 1h0m2 0h0m9 0h2m2 0h0m2 0h0m-17 1h0m2 0h0m4 0h0m3 0h0m5 0h0m2 0h0m2 0h1m-23 1h0m2 0h0m3 0h0m12 0h0m5 0h1m-24 1h0m5 0h0m14 0h0m-18 1h1m2 0h1m9 0h1m6 0h0m9 0h0m-30 1h0m2 0h1m10 0h0m-13 1h1m9 0h0m3 0h0m2 0h0m8 0h0m-23 1h0m14 0h0m5 0h0m2 0h0m2 0h0m-21 1h1m11 0h0m5 0h0m-16 1h1m5 0h1m4 0h0m3 0h0m6 0h0m-23 1h0m5 0h0m13 0h0m20 0h0m-34 1h0m17 0h1m-21 1h1m5 0h0m2 0h0m8 0h0m7 0h0m-22 1h0m8 0h0m10 0h0m-18 1h0m2 0h2m4 0h0m8 0h0m9 0h0m-25 1h1m7 2h0m2 0h1m4 0h0m15 0h0m-13 1h0m-18 1h0m3 0h0m28 0h0m-25 2h0m-6 1h0m21 0h0m-22 1h1m2 0h0m-1 1h0m7 1h0m39 0h0m-25 2h0m-18 5h0m1 1h0m3 0h0m19 0h0m-9 1h0m-4 2h0m5 2h0" stroke="#2e2e2e" stroke-width="1" stroke-linecap="square" fill="none"/>
<path d="M431.5 566.5h9m-12 1h2m2 0h0m3 0h0m6 0h2m-19 1h4m17 0h2m-26 1h1m26 0h1m4 14h1m3 3h0m0 1h0m4 0h0m-11 1h0m8 0h0m3 0h0m-11 1h0m12 0h0m-2 1h0m2 0h0m-1 1h0m0 2h2m0 1h0m-2 1h2m-2 1h1m-12 1h0m9 0h0m2 0h0m-11 1h0m9 0h3m-10 1h0m7 0h3m-12 1h1m7 0h3m-8 1h0m5 0h3m-11 1h0m2 0h3m2 0h4m-9 1h0m2 0h5m-8 1h0m2 0h4m-5 1h6m-27 5h0m11 1h0m2 0h0m-14 1h0m13 0h0m-20 1h0m16 0h0m-16 1h0m20 0h1m-23 1h0m23 0h1m-21 1h0m6 0h0m12 0h0m3 0h0m3 0h0m-27 1h0m14 0h0m6 0h0m4 0h0m-21 1h0m5 0h0m2 0h0m15 0h0m-25 1h0m6 0h0m14 0h0m-19 1h0m2 0h1m3 0h0m11 0h0m3 0h0" stroke="#e6e6e6" stroke-width="1" stroke-linecap="square" fill="none"/>
<path d="M431.5 567.5h0m2 0h0m3 0h4m-11 1h4m2 0h0m2 0h7m-21 1h4m3 0h0m3 0h0m5 0h1m2 0h0m2 0h0m2 0h2m-24 1h2m2 0h0m5 0h0m13 0h1m2 0h1m-25 1h0m4 0h0m21 0h0m-25 1h0m7 0h0m8 0h0m-7 1h0m15 0h2m-14 1h0m4 0h0m3 0h1m5 0h0m-21 1h0m4 0h0m3 0h0m5 0h0m-11 1h0m18 0h0m-19 1h0m5 0h0m-1 1h0m2 0h0m-12 1h0m4 0h1m7 0h0m8 0h0m-17 1h0m5 0h0m8 0h0m4 0h0m4 0h0m-24 1h0m6 0h0m4 0h0m7 0h0m5 0h0m-21 1h1m5 0h0m2 0h0m2 0h0m2 0h0m4 0h0m6 0h0m-4 1h0m4 0h0m3 0h0m-25 1h1m2 0h0m7 0h1m-5 1h0m9 0h0m3 0h0m5 0h0m2 0h0m-23 1h0m-1 1h0m3 0h0m2 0h0m2 0h0m10 0h0m3 0h0m-20 1h0m8 0h0m3 0h0m2 0h0m12 0h0m6 0h0m3 0h0m-35 1h0m6 0h0m20 0h0m-24 1h0m2 0h0m4 0h0m5 0h0m-10 1h0m13 0h0m10 0h0m5 0h0m4 0h0m-27 1h0m4 0h0m3 0h0m18 0h0m3 0h0m-34 1h0m8 0h0m18 0h1m2 0h0m4 0h0m-36 1h0m10 0h0m6 0h0m21 0h1m-25 1h0m2 0h0m14 0h1m5 0h4m-36 1h0m2 0h0m5 0h0m7 0h0m7 0h0m6 0h1m2 0h0m2 0h0m2 0h0m-28 1h0m5 0h0m6 0h0m2 0h0m8 0h2m2 0h0m2 0h1m-35 1h0m4 0h2m2 0h0m14 0h0m6 0h1m3 0h3m-35 1h0m4 0h0m4 0h1m2 0h0m6 0h0m5 0h0m8 0h0m3 0h0m2 0h0m-32 1h0m2 0h0m13 0h0m7 0h0m5 0h2m-32 1h0m9 0h0m5 0h0m2 0h0m15 0h0m2 0h0m-25 1h0m7 0h0m2 0h0m2 0h2m-19 1h0m19 0h0m2 0h0m2 0h1m-24 1h0m4 0h0m4 0h1m7 0h0m4 0h0m-22 1h0m6 0h0m8 0h1m7 0h0m3 0h0m-24 1h0m2 0h1m2 0h0m3 0h2m2 0h0m4 0h1m5 0h1m2 0h0m-25 1h0m4 0h2m3 0h0m2 0h2m2 0h0m3 0h1m2 0h0m2 0h0m-26 1h3m5 0h0m5 0h1m3 0h3m3 0h0m2 0h1m-24 1h0m4 0h1m3 0h0m3 0h1m2 0h2m3 0h1m3 0h0m-25 1h0m2 0h1m2 0h1m2 0h0m3 0h0m3 0h0m2 0h1m2 0h0m2 0h2m2 0h0m2 0h0m-27 1h1m2 0h4m5 0h0m3 0h3m2 0h0m2 0h0m2 0h0m3 0h1m-28 1h7m3 0h0m2 0h1m3 0h1m2 0h2m2 0h5m-28 1h1m2 0h6m2 0h6m3 0h7m-26 1h0m2 0h9m2 0h4m2 0h1m3 0h1m-24 1h11m2 0h2m2 0h4m3 0h2m-27 1h1m3 0h4m2 0h3m2 0h2m2 0h1m2 0h1m2 0h0m-24 1h12m2 0h4m2 0h2m2 0h1m-26 1h2m2 0h1m2 0h0m2 0h0m2 0h2m2 0h6m2 0h1m2 0h0m-25 1h0m2 0h2m2 0h7m2 0h2m3 0h6m-27 1h0m2 0h0m4 0h0m2 0h5m2 0h2m2 0h1m2 0h5" stroke="#cccccc" stroke-width="1" stroke-linecap="square" fill="none"/>
<path d="M434.5 567.5h0m0 1h0m2 0h0m-8 1h1m2 0h1m2 0h3m3 0h0m2 0h0m2 0h0m-23 1h1m4 0h0m2 0h2m3 0h1m2 0h8m3 0h0m-25 1h1m2 0h1m3 0h7m2 0h0m3 0h7m-27 1h1m3 0h4m3 0h6m2 0h7m2 0h0m-27 1h8m3 0h1m2 0h10m-25 1h6m2 0h0m2 0h1m4 0h2m3 0h0m3 0h3m2 0h0m-28 1h1m2 0h2m2 0h2m2 0h1m2 0h3m2 0h6m3 0h0m-28 1h1m2 0h3m2 0h10m2 0h4m2 0h0m2 0h0m-28 1h4m4 0h2m2 0h2m2 0h0m2 0h5m3 0h2m-28 1h6m2 0h1m2 0h0m3 0h7m2 0h2m2 0h1m-27 1h2m3 0h5m2 0h5m3 0h2m2 0h3m-28 1h2m2 0h3m2 0h6m2 0h0m2 0h0m2 0h2m2 0h3m-27 1h4m2 0h0m2 0h0m3 0h4m2 0h3m2 0h4m-24 1h3m2 0h0m2 0h0m2 0h0m2 0h2m2 0h4m2 0h0m2 0h2m-28 1h15m2 0h1m2 0h0m2 0h0m2 0h1m2 0h1m-28 1h0m3 0h0m4 0h3m3 0h8m2 0h3m2 0h0m-28 1h6m3 0h2m2 0h2m2 0h1m2 0h3m4 0h1m-28 1h2m2 0h5m2 0h7m2 0h3m2 0h0m2 0h1m-28 1h1m3 0h0m2 0h0m2 0h0m2 0h0m3 0h5m2 0h1m3 0h2m2 0h0m-28 1h1m2 0h6m2 0h1m2 0h0m2 0h0m2 0h7m3 0h0m-28 1h0m2 0h3m3 0h3m2 0h0m2 0h0m2 0h9m2 0h0m-28 1h2m2 0h0m3 0h1m2 0h0m2 0h0m3 0h1m2 0h5m2 0h0m3 0h0m-28 1h1m2 0h0m2 0h3m2 0h0m2 0h4m2 0h8m2 0h0m-28 1h3m2 0h3m2 0h0m2 0h0m2 0h1m2 0h0m2 0h1m2 0h6m-28 1h2m2 0h0m2 0h4m2 0h4m2 0h2m2 0h2m2 0h0m2 0h0m-26 1h7m2 0h4m3 0h4m2 0h4m4 0h0m-32 1h1m2 0h3m2 0h2m2 0h0m2 0h0m2 0h5m2 0h2m2 0h1m-28 1h2m2 0h0m2 0h1m2 0h0m3 0h4m3 0h2m2 0h0m2 0h3m6 0h0m-33 1h1m2 0h4m2 0h3m3 0h3m2 0h0m3 0h4m5 0h0m2 0h0m-35 1h0m4 0h1m4 0h0m2 0h5m2 0h0m3 0h2m2 0h3m-28 1h1m2 0h0m2 0h0m2 0h2m7 0h0m2 0h0m4 0h1m3 0h1m-27 1h1m2 0h1m2 0h0m2 0h1m2 0h8m2 0h4m3 0h0m-28 1h0m3 0h0m2 0h5m2 0h3m2 0h0m3 0h0m2 0h4m2 0h0m-28 1h0m2 0h7m2 0h2m2 0h0m3 0h0m2 0h0m4 0h4m-28 1h3m2 0h0m2 0h0m2 0h13m2 0h0m2 0h0m-26 1h3m4 0h0m3 0h1m3 0h5m2 0h2m2 0h0m2 0h1m-28 1h1m2 0h4m2 0h6m3 0h2m2 0h1m2 0h1m-26 1h2m2 0h0m3 0h0m2 0h1m4 0h0m2 0h2m3 0h3m3 0h0m-27 1h2m2 0h2m5 0h0m2 0h0m4 0h0m2 0h1m3 0h0m2 0h0m2 0h1m-23 1h2m2 0h3m3 0h1m5 0h1m2 0h0m3 0h0m-27 1h1m2 0h2m3 0h1m2 0h1m3 0h0m4 0h1m3 0h1m2 0h2m-27 1h0m3 0h0m3 0h0m2 0h0m3 0h1m2 0h0m3 0h0m2 0h0m4 0h0m2 0h0m2 0h0m-26 1h0m6 0h3m2 0h1m5 0h0m6 0h1m-18 1h0m3 0h0m3 0h1m3 0h0m-8 1h0m9 0h0m9 0h0m-28 1h0m13 0h0m6 0h0m7 0h2m-15 1h0m4 0h0m11 0h0m-26 1h0m12 0h0m4 0h0m8 0h0m2 0h0m-1 1h1m-22 1h0m8 0h0m13 0h1m-26 1h0m13 0h0m4 0h0m9 0h0m-14 1h0m14 0h0" stroke="#b2b2b2" stroke-width="1" stroke-linecap="square" fill="none"/>
<path d="M452.5 569.5h0m11 0h0m4 0h0m3 0h0m-9 1h0m8 0h1m-16 2h0m9 0h0m8 0h0m2 0h0m-17 1h0m2 0h1m6 0h0m11 0h0m-20 1h0m5 0h0m4 0h0m2 0h0m-16 1h0m11 0h0m-8 1h0m3 0h0m4 0h1m4 0h0m2 0h0m6 0h0m-21 1h0m2 0h0m3 0h0m7 0h0m4 0h0m4 0h0m2 0h0m2 0h0m-21 1h0m3 0h1m3 0h1m5 0h0m8 0h0m-23 1h0m7 0h0m2 0h0m4 0h1m2 0h1m5 0h0m3 0h0m-29 1h1m3 0h0m10 0h0m9 0h0m8 0h0m-21 1h0m5 0h0m-7 1h0m3 0h1m10 0h0m-21 1h0m5 0h1m3 0h1m6 0h0m4 0h0m-18 1h0m3 0h0m2 0h0m2 0h0m10 0h0m2 0h0m3 0h0m-20 1h0m3 0h0m3 0h0m5 0h0m12 0h0m-23 1h1m3 0h0m8 0h0m-16 1h0m2 0h0m2 0h0m4 0h1m5 0h0m9 0h0m-23 1h0m4 0h1m3 0h0m6 0h0m2 0h1m4 0h1m-17 1h1m11 0h0m3 0h0m-19 1h0m13 1h0m-12 1h1m2 0h0m5 0h0m-3 1h0m8 0h0m-15 1h0m15 0h0m-11 1h0m21 0h0m-23 1h0m11 0h0m7 0h0m-7 1h0m-11 1h0m-3 1h0m7 0h0m-1 1h1m14 0h0m23 2h0m-32 1h0m13 0h0m0 1h0m3 3h0m-6 1h0m18 0h0m-26 2h0m-7 1h0m22 1h0m-21 1h0m20 1h0m-15 1h0" stroke="#424242" stroke-width="1" stroke-linecap="square" fill="none"/>
<path d="M454.5 569.5h0m1 2h0m9 0h0m-9 1h0m4 0h1m-8 2h0m3 0h0m3 0h0m2 0h0m10 0h0m-11 1h0m-9 1h0m3 0h0m2 0h0m9 0h0m-12 1h0m9 0h0m2 0h0m13 0h0m-26 1h0m3 0h0m9 0h0m3 0h0m2 0h0m5 0h0m-21 1h0m2 0h0m4 0h0m-5 1h0m4 0h0m3 0h0m2 0h0m-9 1h2m5 0h0m4 0h0m3 0h0m6 0h0m-15 1h0m2 0h1m3 0h0m2 0h1m-7 1h0m6 0h0m5 0h0m-20 1h0m7 0h0m9 0h0m-15 1h0m3 0h0m5 0h0m3 0h0m2 0h1m2 0h1m3 0h1m4 0h0m-23 1h0m8 0h0m7 0h0m-16 1h0m2 0h0m2 0h0m2 0h0m5 0h0m3 0h0m-6 1h0m2 0h1m3 0h0m-15 1h1m3 0h0m3 0h0m7 0h0m-11 1h0m7 0h0m6 0h0m-17 1h2m6 0h0m2 0h0m2 0h0m2 0h0m4 0h2m27 0h0m-37 1h0m5 0h0m5 0h0m-20 2h0m11 0h0m17 0h0m-24 1h0m-4 1h0m7 0h0m2 0h0m-5 2h0m1 1h0m24 0h0m-4 1h0m6 0h0m-26 1h0m-5 3h0m30 1h0m-15 2h0m-11 1h0m4 0h0m19 0h0m-22 3h0m12 0h0m-1 1h0m-13 1h0m4 0h0" stroke="#1a1a1a" stroke-width="1" stroke-linecap="square" fill="none"/>
<path d="M455.5 569.5h0m9 0h0m-5 1h0m-5 1h0m2 0h0m9 0h1m4 0h0m3 0h0m-17 1h0m20 0h0m-25 2h0m2 0h0m13 0h0m6 1h0m-20 1h0m4 0h0m2 0h0m5 0h0m4 0h0m12 0h0m-25 1h0m3 0h0m-3 1h0m3 0h1m10 0h0m2 0h0m-18 1h0m3 0h0m3 0h0m2 0h0m-7 1h0m5 0h0m2 0h0m3 0h0m12 0h0m2 0h0m-21 1h0m2 0h0m4 0h0m5 0h0m-17 1h0m2 0h0m2 0h1m18 1h2m-16 1h0m3 0h0m6 0h1m4 0h0m12 0h0m-29 1h1m3 0h0m9 0h0m4 0h0m-21 1h0m2 0h0m4 0h0m4 0h0m4 0h0m4 0h0m-8 1h0m5 0h1m-7 2h0m2 0h0m13 0h0m-25 1h0m2 0h0m3 0h3m5 0h1m5 0h0m3 0h0m2 0h0m2 0h1m-23 1h1m3 0h0m8 0h0m-17 1h0m12 0h0m-8 1h2m3 0h0m14 0h0m7 0h0m-23 1h0m5 0h0m8 0h0m3 0h0m8 1h0m-21 1h0m3 0h0m3 1h0m6 2h0m-20 1h0m-2 1h2m4 1h0m2 2h0m-5 2h0m1 1h0m27 0h0m4 0h1m-22 1h0m13 2h0m-25 1h0m8 0h0m25 1h0m-31 2h0m8 1h0" stroke="#565656" stroke-width="1" stroke-linecap="square" fill="none"/>
<path d="M431.5 570.5h0m4 0h0m-14 1h0m6 0h0m10 0h0m2 0h1m-17 1h0m7 0h0m18 0h0m-27 1h0m10 0h0m4 0h0m-7 1h0m2 0h0m3 0h1m6 0h0m-17 1h0m24 0h1m-25 1h0m17 0h0m8 0h0m-22 1h0m2 0h0m8 0h0m2 0h0m7 0h1m-18 1h0m6 0h0m9 0h0m4 0h0m-7 1h0m5 0h0m-6 1h0m-10 1h0m3 0h0m17 0h0m-28 1h0m25 0h0m-9 1h0m5 0h0m-16 1h1m16 0h0m5 0h0m-19 1h0m4 0h0m13 0h0m-15 1h0m9 0h0m5 0h0m2 0h0m-23 1h0m8 0h1m11 0h0m4 0h0m-10 1h0m9 0h0m-20 1h0m6 0h0m2 0h0m2 0h0m-10 1h0m5 0h0m2 0h0m4 0h0m7 0h0m2 0h1m-25 1h0m7 0h0m2 0h0m-7 1h0m7 0h0m7 0h0m3 0h0m-16 1h0m12 0h0m4 0h0m4 0h0m2 0h0m-26 1h0m16 0h0m6 0h0m-21 1h0m5 0h0m4 0h0m11 0h0m4 0h0m-18 1h0m3 0h0m7 0h0m4 0h0m-22 1h0m3 0h0m12 0h0m8 0h0m-22 1h0m2 0h0m14 0h0m2 0h1m-16 1h0m8 0h0m2 0h1m2 0h0m3 0h1m4 0h0m3 0h0m-26 1h0m8 0h0m16 0h0m-25 1h0m3 0h0m15 0h0m2 0h0m6 0h0m-26 1h0m13 0h0m2 0h0m-10 1h0m2 0h0m-3 1h1m3 0h0m17 0h0m-5 1h0m7 0h0m-18 2h0m-6 1h0m24 0h0" stroke="#999999" stroke-width="1" stroke-linecap="square" fill="none"/>
<line x1="450.2" y1="537.9" x2="450.2" y2="621.5" stroke="#333" stroke-width="1"/>
<line x1="420.4" y1="589.4" x2="511.2" y2="589.4" stroke="#333" stroke-width="1"/>
<rect x="420.4" y="537.9" width="90.80000000000001" height="83.60000000000002" fill="none" stroke="#111" stroke-width="1"/>
<text x="435.4" y="577.4" font-size="6.8" text-anchor="middle" fill="#222">Q1</text>
<text x="465.7" y="577.4" font-size="6.8" text-anchor="middle" fill="#222">Q2</text>
<text x="435.4" y="607.6" font-size="6.8" text-anchor="middle" fill="#222">Q3</text>
<text x="465.7" y="607.6" font-size="6.8" text-anchor="middle" fill="#222">Q4</text>
<text x="266.5" y="358" font-size="17" font-weight="bold" fill="#000">F</text>
</svg>
</body></html>
